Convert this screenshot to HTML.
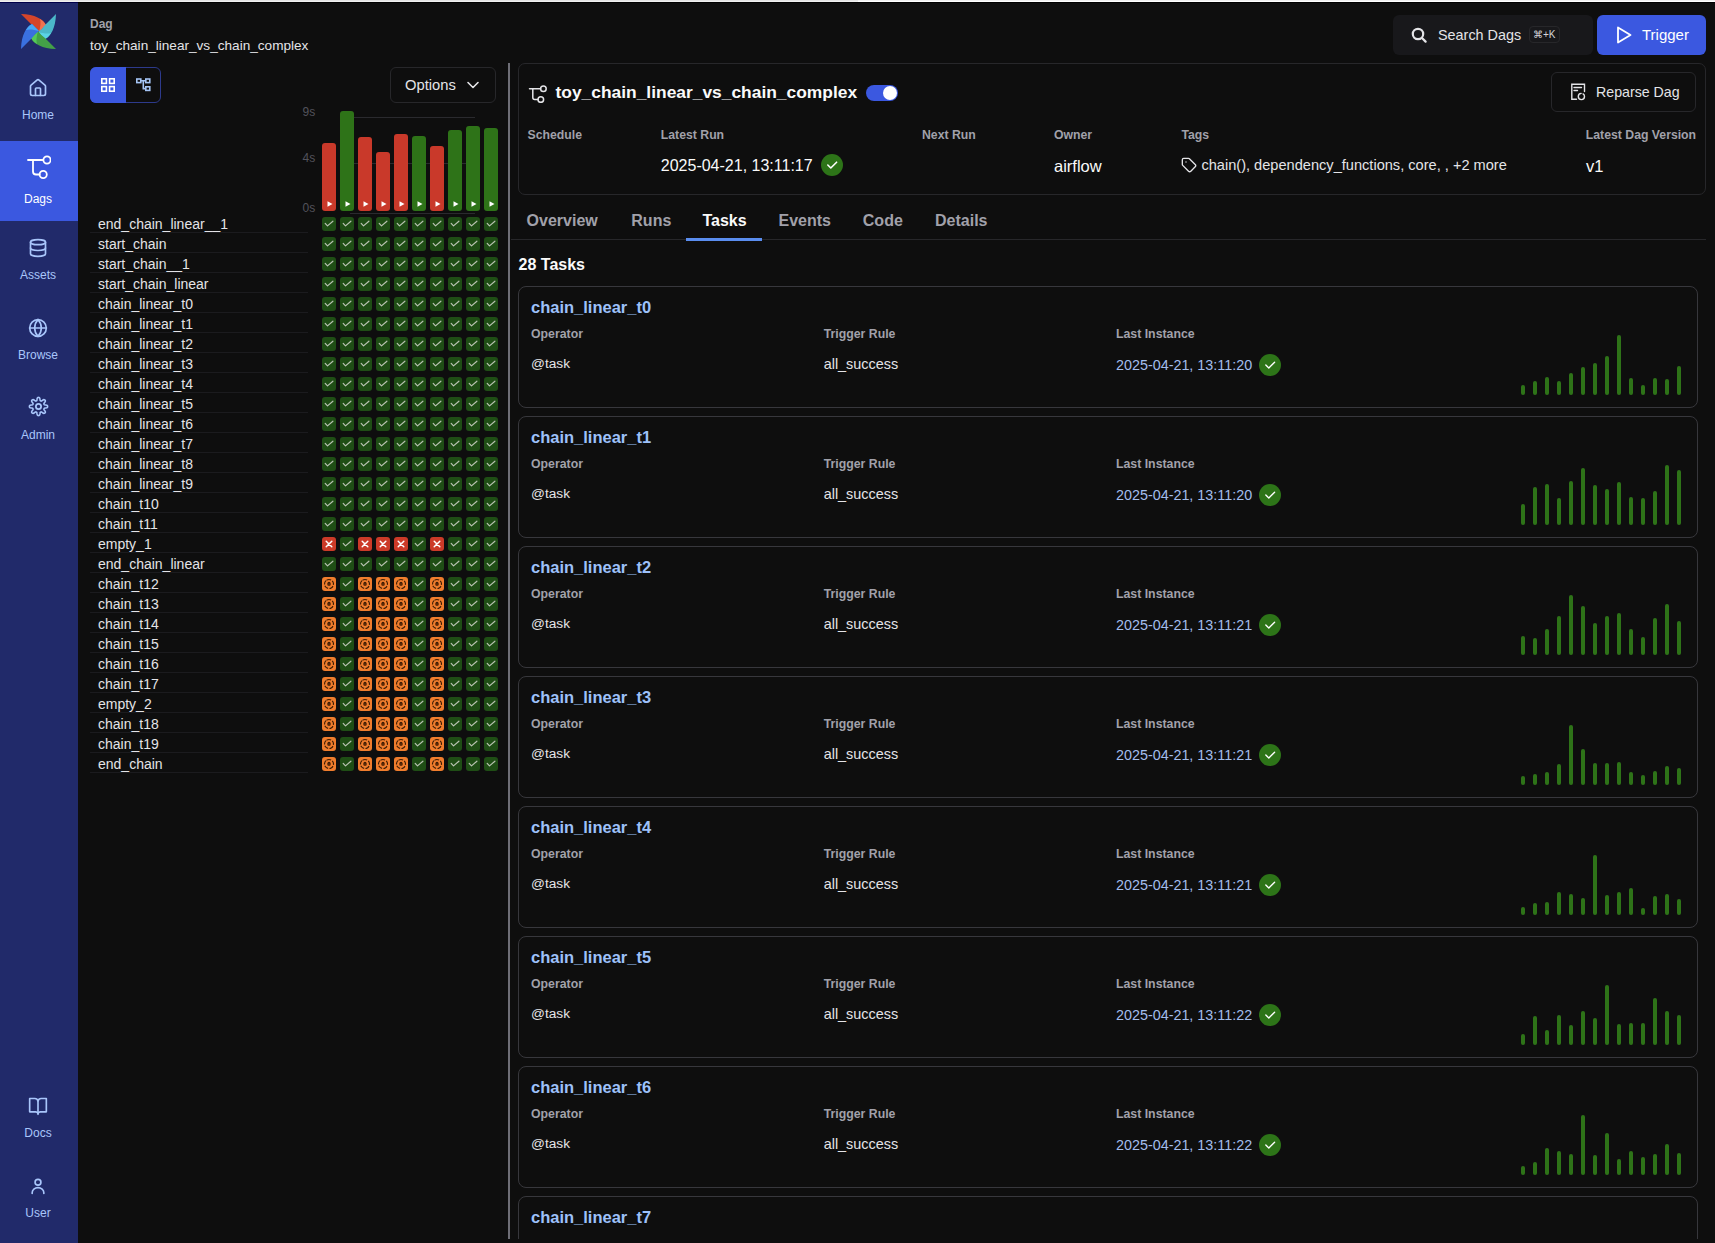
<!DOCTYPE html><html><head><meta charset="utf-8"><style>
html,body{margin:0;padding:0;width:1715px;height:1243px;overflow:hidden;background:#0e0e0e;font-family:"Liberation Sans", sans-serif;}
.t{position:absolute;white-space:nowrap;}
</style></head><body>
<div style="position:absolute;left:0px;top:0px;width:858px;height:1px;background:#e3e3e3"></div>
<div style="position:absolute;left:0px;top:1px;width:858px;height:1px;background:#f0f0f0"></div>
<div style="position:absolute;left:858px;top:0px;width:857px;height:1px;background:#f0f0f0"></div>
<div style="position:absolute;left:858px;top:1px;width:857px;height:1px;background:#ffffff"></div>
<div style="position:absolute;left:0px;top:2px;width:1715px;height:1px;background:#000"></div>
<div style="position:absolute;left:0px;top:2px;width:78px;height:1px;background:#00004a"></div>
<div style="position:absolute;left:0px;top:3px;width:78px;height:1240px;background:#212a6a"></div>
<div style="position:absolute;left:0px;top:141px;width:78px;height:80px;background:#3b58e0"></div>
<svg style="position:absolute;left:21px;top:14px;" width="35" height="35" viewBox="0 0 35 35" fill="none"><g transform="rotate(0 17.5 17.5)"><path d="M0,0 L11,11 Q15,13.5 18,18 L25,11 C22,5 14,0.5 0,0 Z" fill="#d5452a"/><path d="M18,18 L25,11 C23.5,8 21,6 19,5 C20,8 19.5,13 18,18 Z" fill="#ef7350"/></g><g transform="rotate(90 17.5 17.5)"><path d="M0,0 L11,11 Q15,13.5 18,18 L25,11 C22,5 14,0.5 0,0 Z" fill="#4bb8c9"/><path d="M18,18 L25,11 C23.5,8 21,6 19,5 C20,8 19.5,13 18,18 Z" fill="#5bd3e6"/></g><g transform="rotate(180 17.5 17.5)"><path d="M0,0 L11,11 Q15,13.5 18,18 L25,11 C22,5 14,0.5 0,0 Z" fill="#43a047"/><path d="M18,18 L25,11 C23.5,8 21,6 19,5 C20,8 19.5,13 18,18 Z" fill="#55c958"/></g><g transform="rotate(270 17.5 17.5)"><path d="M0,0 L11,11 Q15,13.5 18,18 L25,11 C22,5 14,0.5 0,0 Z" fill="#3a70e0"/><path d="M18,18 L25,11 C23.5,8 21,6 19,5 C20,8 19.5,13 18,18 Z" fill="#46a8f6"/></g></svg>
<svg style="position:absolute;left:28.0px;top:78.0px;" width="20" height="20" viewBox="0 0 24 24" fill="none"><g stroke="#a9c6fb" stroke-width="2" stroke-linecap="round" stroke-linejoin="round"><path d="M15 21v-8a1 1 0 0 0-1-1h-4a1 1 0 0 0-1 1v8"/><path d="M3 10a2 2 0 0 1 .709-1.528l7-5.999a2 2 0 0 1 2.582 0l7 5.999A2 2 0 0 1 21 10v9a2 2 0 0 1-2 2H5a2 2 0 0 1-2-2z"/></g></svg>
<div class="t" style="left:-2.0px;width:80px;text-align:center;top:107.0px;font-size:12px;line-height:16px;color:#a9c6fb;font-weight:400">Home</div>
<svg style="position:absolute;left:27px;top:155px;" width="24" height="24" viewBox="0 0 24 24" fill="none"><g stroke="#fff" stroke-width="1.8" stroke-linecap="round" stroke-linejoin="round" fill="none"><path d="M1 5H16"/><circle cx="20" cy="5" r="3.6"/><path d="M6 5V16.5a3 3 0 0 0 3 3H12.5"/><circle cx="16.2" cy="19.5" r="3.6"/></g></svg>
<div class="t" style="left:-2.0px;width:80px;text-align:center;top:191.0px;font-size:12px;line-height:16px;color:#ffffff;font-weight:400">Dags</div>
<svg style="position:absolute;left:28.0px;top:238.0px;" width="20" height="20" viewBox="0 0 24 24" fill="none"><g stroke="#a9c6fb" stroke-width="2" stroke-linecap="round" stroke-linejoin="round"><ellipse cx="12" cy="5" rx="9" ry="3"/><path d="M3 5V19A9 3 0 0 0 21 19V5"/><path d="M3 12A9 3 0 0 0 21 12"/></g></svg>
<div class="t" style="left:-2.0px;width:80px;text-align:center;top:267.0px;font-size:12px;line-height:16px;color:#a9c6fb;font-weight:400">Assets</div>
<svg style="position:absolute;left:28.0px;top:318.0px;" width="20" height="20" viewBox="0 0 24 24" fill="none"><g stroke="#a9c6fb" stroke-width="2" stroke-linecap="round" stroke-linejoin="round"><circle cx="12" cy="12" r="10"/><path d="M12 2a14.5 14.5 0 0 0 0 20 14.5 14.5 0 0 0 0-20"/><path d="M2 12h20"/></g></svg>
<div class="t" style="left:-2.0px;width:80px;text-align:center;top:347.0px;font-size:12px;line-height:16px;color:#a9c6fb;font-weight:400">Browse</div>
<svg style="position:absolute;left:27.5px;top:396.3px;" width="21" height="21" viewBox="0 0 24 24" fill="none"><g stroke="#a9c6fb" stroke-width="2" stroke-linecap="round" stroke-linejoin="round"><path d="M12.00,1.60 L12.41,1.63 L12.81,1.75 L13.18,2.03 L13.49,2.62 L13.68,3.57 L13.80,4.51 L13.94,5.11 L14.14,5.42 L14.36,5.60 L14.60,5.72 L14.86,5.80 L15.14,5.83 L15.50,5.75 L16.03,5.43 L16.78,4.85 L17.58,4.32 L18.21,4.12 L18.68,4.18 L19.04,4.38 L19.35,4.65 L19.62,4.96 L19.82,5.32 L19.88,5.79 L19.68,6.42 L19.15,7.22 L18.57,7.97 L18.25,8.50 L18.17,8.86 L18.20,9.14 L18.28,9.40 L18.40,9.64 L18.58,9.86 L18.89,10.06 L19.49,10.20 L20.43,10.32 L21.38,10.51 L21.97,10.82 L22.25,11.19 L22.37,11.59 L22.40,12.00 L22.37,12.41 L22.25,12.81 L21.97,13.18 L21.38,13.49 L20.43,13.68 L19.49,13.80 L18.89,13.94 L18.58,14.14 L18.40,14.36 L18.28,14.60 L18.20,14.86 L18.17,15.14 L18.25,15.50 L18.57,16.03 L19.15,16.78 L19.68,17.58 L19.88,18.21 L19.82,18.68 L19.62,19.04 L19.35,19.35 L19.04,19.62 L18.68,19.82 L18.21,19.88 L17.58,19.68 L16.78,19.15 L16.03,18.57 L15.50,18.25 L15.14,18.17 L14.86,18.20 L14.60,18.28 L14.36,18.40 L14.14,18.58 L13.94,18.89 L13.80,19.49 L13.68,20.43 L13.49,21.38 L13.18,21.97 L12.81,22.25 L12.41,22.37 L12.00,22.40 L11.59,22.37 L11.19,22.25 L10.82,21.97 L10.51,21.38 L10.32,20.43 L10.20,19.49 L10.06,18.89 L9.86,18.58 L9.64,18.40 L9.40,18.28 L9.14,18.20 L8.86,18.17 L8.50,18.25 L7.97,18.57 L7.22,19.15 L6.42,19.68 L5.79,19.88 L5.32,19.82 L4.96,19.62 L4.65,19.35 L4.38,19.04 L4.18,18.68 L4.12,18.21 L4.32,17.58 L4.85,16.78 L5.43,16.03 L5.75,15.50 L5.83,15.14 L5.80,14.86 L5.72,14.60 L5.60,14.36 L5.42,14.14 L5.11,13.94 L4.51,13.80 L3.57,13.68 L2.62,13.49 L2.03,13.18 L1.75,12.81 L1.63,12.41 L1.60,12.00 L1.63,11.59 L1.75,11.19 L2.03,10.82 L2.62,10.51 L3.57,10.32 L4.51,10.20 L5.11,10.06 L5.42,9.86 L5.60,9.64 L5.72,9.40 L5.80,9.14 L5.83,8.86 L5.75,8.50 L5.43,7.97 L4.85,7.22 L4.32,6.42 L4.12,5.79 L4.18,5.32 L4.38,4.96 L4.65,4.65 L4.96,4.38 L5.32,4.18 L5.79,4.12 L6.42,4.32 L7.22,4.85 L7.97,5.43 L8.50,5.75 L8.86,5.83 L9.14,5.80 L9.40,5.72 L9.64,5.60 L9.86,5.42 L10.06,5.11 L10.20,4.51 L10.32,3.57 L10.51,2.62 L10.82,2.03 L11.19,1.75 L11.59,1.63 L12.00,1.60Z" stroke-width="1.8"/><circle cx="12" cy="12" r="3"/></g></svg>
<div class="t" style="left:-2.0px;width:80px;text-align:center;top:427.0px;font-size:12px;line-height:16px;color:#a9c6fb;font-weight:400">Admin</div>
<svg style="position:absolute;left:28.0px;top:1095.5px;" width="20" height="20" viewBox="0 0 24 24" fill="none"><g stroke="#a9c6fb" stroke-width="2" stroke-linecap="round" stroke-linejoin="round"><path d="M12 6v16"/><path d="M2 3h6a4 4 0 0 1 4 3 4 4 0 0 1 4-3h6v16h-7a3 3 0 0 0-3 2 3 3 0 0 0-3-2H2z"/></g></svg>
<div class="t" style="left:-2.0px;width:80px;text-align:center;top:1124.5px;font-size:12px;line-height:16px;color:#a9c6fb;font-weight:400">Docs</div>
<svg style="position:absolute;left:28.0px;top:1175.7px;" width="20" height="20" viewBox="0 0 24 24" fill="none"><g stroke="#a9c6fb" stroke-width="2" stroke-linecap="round" stroke-linejoin="round"><circle cx="12" cy="7.5" r="3.5"/><path d="M5 21v-1a7 6 0 0 1 14 0v1"/></g></svg>
<div class="t" style="left:-2.0px;width:80px;text-align:center;top:1204.7px;font-size:12px;line-height:16px;color:#a9c6fb;font-weight:400">User</div>
<div class="t" style="left:90px;top:16.0px;font-size:12px;line-height:16px;color:#a1a1aa;font-weight:700;">Dag</div>
<div class="t" style="left:90px;top:36.5px;font-size:13.6px;line-height:18px;color:#e4e4e7;font-weight:400;">toy_chain_linear_vs_chain_complex</div>
<div style="position:absolute;left:1393px;top:15px;width:200px;height:40px;background:#18181b;border-radius:6px"></div>
<svg style="position:absolute;left:1411px;top:27px;" width="16" height="16" viewBox="0 0 16 16" fill="none"><g stroke="#e4e4e7" stroke-width="2.2" stroke-linecap="round"><circle cx="7" cy="7" r="5.2"/><path d="M11 11l3.6 3.6"/></g></svg>
<div class="t" style="left:1438px;top:25.7px;font-size:14.4px;line-height:18px;color:#e4e4e7;font-weight:400;">Search Dags</div>
<div style="position:absolute;left:1529px;top:26px;width:31px;height:17px;border:1px solid #27272a;border-radius:4px;box-sizing:border-box"></div>
<div class="t" style="left:1533px;top:27.5px;font-size:10px;line-height:14px;color:#d4d4d8;font-weight:400;">&#8984;+K</div>
<div style="position:absolute;left:1597px;top:15px;width:109px;height:40px;background:#3b58e0;border-radius:6px"></div>
<svg style="position:absolute;left:1615px;top:26px;" width="18" height="18" viewBox="0 0 18 18" fill="none"><path d="M3 1.5L15.5 9L3 16.5Z" stroke="#fff" stroke-width="1.8" stroke-linejoin="round"/></svg>
<div class="t" style="left:1642px;top:25.6px;font-size:15px;line-height:18px;color:#ffffff;font-weight:400;">Trigger</div>
<div style="position:absolute;left:90px;top:67px;width:71px;height:36px;border:1px solid #2d3a8c;border-radius:6px;box-sizing:border-box"></div>
<div style="position:absolute;left:90px;top:67px;width:36px;height:36px;background:#3b58e0;border-radius:6px 0 0 6px"></div>
<svg style="position:absolute;left:101px;top:78px;" width="14" height="14" viewBox="0 0 14 14" fill="none"><g stroke="#fff" stroke-width="1.6"><rect x="0.8" y="0.8" width="4.6" height="4.6"/><rect x="8.6" y="0.8" width="4.6" height="4.6"/><rect x="0.8" y="8.6" width="4.6" height="4.6"/><rect x="8.6" y="8.6" width="4.6" height="4.6"/></g></svg>
<svg style="position:absolute;left:136px;top:78px;" width="15" height="14" viewBox="0 0 15 14" fill="none"><g stroke="#a4c4f4" stroke-width="1.6"><rect x="0.8" y="1" width="4" height="3.6"/><rect x="9.8" y="1" width="4" height="3.6"/><rect x="9.8" y="8.8" width="4" height="3.6"/><path d="M4.8 2.8H9.8M7.3 2.8V10.6H9.8"/></g></svg>
<div style="position:absolute;left:390px;top:67px;width:106px;height:36px;border:1px solid #27272a;border-radius:6px;box-sizing:border-box"></div>
<div class="t" style="left:405px;top:76.0px;font-size:14.75px;line-height:18px;color:#e4e4e7;font-weight:400;">Options</div>
<svg style="position:absolute;left:466px;top:80px;" width="14" height="10" viewBox="0 0 14 10" fill="none"><path d="M2 2.5L7 7.5L12 2.5" stroke="#e4e4e7" stroke-width="1.6" stroke-linecap="round" stroke-linejoin="round"/></svg>
<div class="t" style="left:302.5px;top:104.0px;font-size:12px;line-height:16px;color:#52525b;font-weight:400;">9s</div>
<div class="t" style="left:302.5px;top:150.0px;font-size:12px;line-height:16px;color:#52525b;font-weight:400;">4s</div>
<div class="t" style="left:302.5px;top:200.0px;font-size:12px;line-height:16px;color:#52525b;font-weight:400;">0s</div>
<div style="position:absolute;left:354px;top:117px;width:121px;height:1px;background:#2a2a2e"></div>
<div style="position:absolute;left:354px;top:163px;width:121px;height:1px;background:#2a2a2e"></div>
<div style="position:absolute;left:350px;top:213px;width:125px;height:1px;background:#2a2a2e"></div>
<div style="position:absolute;left:322px;top:143px;width:14px;height:68px;background:#c9392a;border-radius:3px"></div>
<svg style="position:absolute;left:326.6px;top:201px;" width="6" height="6" viewBox="0 0 6 6" fill="none"><path d="M0.5 0.3L5.5 3L0.5 5.7Z" fill="#fff"/></svg>
<div style="position:absolute;left:340px;top:111px;width:14px;height:100px;background:#2e7318;border-radius:3px"></div>
<svg style="position:absolute;left:344.6px;top:201px;" width="6" height="6" viewBox="0 0 6 6" fill="none"><path d="M0.5 0.3L5.5 3L0.5 5.7Z" fill="#fff"/></svg>
<div style="position:absolute;left:358px;top:137px;width:14px;height:74px;background:#c9392a;border-radius:3px"></div>
<svg style="position:absolute;left:362.6px;top:201px;" width="6" height="6" viewBox="0 0 6 6" fill="none"><path d="M0.5 0.3L5.5 3L0.5 5.7Z" fill="#fff"/></svg>
<div style="position:absolute;left:376px;top:152px;width:14px;height:59px;background:#c9392a;border-radius:3px"></div>
<svg style="position:absolute;left:380.6px;top:201px;" width="6" height="6" viewBox="0 0 6 6" fill="none"><path d="M0.5 0.3L5.5 3L0.5 5.7Z" fill="#fff"/></svg>
<div style="position:absolute;left:394px;top:134px;width:14px;height:77px;background:#c9392a;border-radius:3px"></div>
<svg style="position:absolute;left:398.6px;top:201px;" width="6" height="6" viewBox="0 0 6 6" fill="none"><path d="M0.5 0.3L5.5 3L0.5 5.7Z" fill="#fff"/></svg>
<div style="position:absolute;left:412px;top:136px;width:14px;height:75px;background:#2e7318;border-radius:3px"></div>
<svg style="position:absolute;left:416.6px;top:201px;" width="6" height="6" viewBox="0 0 6 6" fill="none"><path d="M0.5 0.3L5.5 3L0.5 5.7Z" fill="#fff"/></svg>
<div style="position:absolute;left:430px;top:146px;width:14px;height:65px;background:#c9392a;border-radius:3px"></div>
<svg style="position:absolute;left:434.6px;top:201px;" width="6" height="6" viewBox="0 0 6 6" fill="none"><path d="M0.5 0.3L5.5 3L0.5 5.7Z" fill="#fff"/></svg>
<div style="position:absolute;left:448px;top:130px;width:14px;height:81px;background:#2e7318;border-radius:3px"></div>
<svg style="position:absolute;left:452.6px;top:201px;" width="6" height="6" viewBox="0 0 6 6" fill="none"><path d="M0.5 0.3L5.5 3L0.5 5.7Z" fill="#fff"/></svg>
<div style="position:absolute;left:466px;top:126px;width:14px;height:85px;background:#2e7318;border-radius:3px"></div>
<svg style="position:absolute;left:470.6px;top:201px;" width="6" height="6" viewBox="0 0 6 6" fill="none"><path d="M0.5 0.3L5.5 3L0.5 5.7Z" fill="#fff"/></svg>
<div style="position:absolute;left:484px;top:128px;width:14px;height:83px;background:#2e7318;border-radius:3px"></div>
<svg style="position:absolute;left:488.6px;top:201px;" width="6" height="6" viewBox="0 0 6 6" fill="none"><path d="M0.5 0.3L5.5 3L0.5 5.7Z" fill="#fff"/></svg>
<div class="t" style="left:98px;top:215.0px;font-size:14px;line-height:18px;color:#e4e4e7;font-weight:400;">end_chain_linear__1</div>
<div style="position:absolute;left:90px;top:232px;width:218px;height:1px;background:#1b1b1e"></div>
<svg style="position:absolute;left:322px;top:217px" width="14" height="14" viewBox="0 0 14 14"><rect width="14" height="14" rx="3" fill="#1f4e15"/><path d="M3.2 6.4L5.5 8.9L10.9 4.2" stroke="#b9c2b2" stroke-width="1.2" stroke-linecap="round" stroke-linejoin="round" fill="none"/></svg>
<svg style="position:absolute;left:340px;top:217px" width="14" height="14" viewBox="0 0 14 14"><rect width="14" height="14" rx="3" fill="#1f4e15"/><path d="M3.2 6.4L5.5 8.9L10.9 4.2" stroke="#b9c2b2" stroke-width="1.2" stroke-linecap="round" stroke-linejoin="round" fill="none"/></svg>
<svg style="position:absolute;left:358px;top:217px" width="14" height="14" viewBox="0 0 14 14"><rect width="14" height="14" rx="3" fill="#1f4e15"/><path d="M3.2 6.4L5.5 8.9L10.9 4.2" stroke="#b9c2b2" stroke-width="1.2" stroke-linecap="round" stroke-linejoin="round" fill="none"/></svg>
<svg style="position:absolute;left:376px;top:217px" width="14" height="14" viewBox="0 0 14 14"><rect width="14" height="14" rx="3" fill="#1f4e15"/><path d="M3.2 6.4L5.5 8.9L10.9 4.2" stroke="#b9c2b2" stroke-width="1.2" stroke-linecap="round" stroke-linejoin="round" fill="none"/></svg>
<svg style="position:absolute;left:394px;top:217px" width="14" height="14" viewBox="0 0 14 14"><rect width="14" height="14" rx="3" fill="#1f4e15"/><path d="M3.2 6.4L5.5 8.9L10.9 4.2" stroke="#b9c2b2" stroke-width="1.2" stroke-linecap="round" stroke-linejoin="round" fill="none"/></svg>
<svg style="position:absolute;left:412px;top:217px" width="14" height="14" viewBox="0 0 14 14"><rect width="14" height="14" rx="3" fill="#1f4e15"/><path d="M3.2 6.4L5.5 8.9L10.9 4.2" stroke="#b9c2b2" stroke-width="1.2" stroke-linecap="round" stroke-linejoin="round" fill="none"/></svg>
<svg style="position:absolute;left:430px;top:217px" width="14" height="14" viewBox="0 0 14 14"><rect width="14" height="14" rx="3" fill="#1f4e15"/><path d="M3.2 6.4L5.5 8.9L10.9 4.2" stroke="#b9c2b2" stroke-width="1.2" stroke-linecap="round" stroke-linejoin="round" fill="none"/></svg>
<svg style="position:absolute;left:448px;top:217px" width="14" height="14" viewBox="0 0 14 14"><rect width="14" height="14" rx="3" fill="#1f4e15"/><path d="M3.2 6.4L5.5 8.9L10.9 4.2" stroke="#b9c2b2" stroke-width="1.2" stroke-linecap="round" stroke-linejoin="round" fill="none"/></svg>
<svg style="position:absolute;left:466px;top:217px" width="14" height="14" viewBox="0 0 14 14"><rect width="14" height="14" rx="3" fill="#1f4e15"/><path d="M3.2 6.4L5.5 8.9L10.9 4.2" stroke="#b9c2b2" stroke-width="1.2" stroke-linecap="round" stroke-linejoin="round" fill="none"/></svg>
<svg style="position:absolute;left:484px;top:217px" width="14" height="14" viewBox="0 0 14 14"><rect width="14" height="14" rx="3" fill="#1f4e15"/><path d="M3.2 6.4L5.5 8.9L10.9 4.2" stroke="#b9c2b2" stroke-width="1.2" stroke-linecap="round" stroke-linejoin="round" fill="none"/></svg>
<div class="t" style="left:98px;top:235.0px;font-size:14px;line-height:18px;color:#e4e4e7;font-weight:400;">start_chain</div>
<div style="position:absolute;left:90px;top:252px;width:218px;height:1px;background:#1b1b1e"></div>
<svg style="position:absolute;left:322px;top:237px" width="14" height="14" viewBox="0 0 14 14"><rect width="14" height="14" rx="3" fill="#1f4e15"/><path d="M3.2 6.4L5.5 8.9L10.9 4.2" stroke="#b9c2b2" stroke-width="1.2" stroke-linecap="round" stroke-linejoin="round" fill="none"/></svg>
<svg style="position:absolute;left:340px;top:237px" width="14" height="14" viewBox="0 0 14 14"><rect width="14" height="14" rx="3" fill="#1f4e15"/><path d="M3.2 6.4L5.5 8.9L10.9 4.2" stroke="#b9c2b2" stroke-width="1.2" stroke-linecap="round" stroke-linejoin="round" fill="none"/></svg>
<svg style="position:absolute;left:358px;top:237px" width="14" height="14" viewBox="0 0 14 14"><rect width="14" height="14" rx="3" fill="#1f4e15"/><path d="M3.2 6.4L5.5 8.9L10.9 4.2" stroke="#b9c2b2" stroke-width="1.2" stroke-linecap="round" stroke-linejoin="round" fill="none"/></svg>
<svg style="position:absolute;left:376px;top:237px" width="14" height="14" viewBox="0 0 14 14"><rect width="14" height="14" rx="3" fill="#1f4e15"/><path d="M3.2 6.4L5.5 8.9L10.9 4.2" stroke="#b9c2b2" stroke-width="1.2" stroke-linecap="round" stroke-linejoin="round" fill="none"/></svg>
<svg style="position:absolute;left:394px;top:237px" width="14" height="14" viewBox="0 0 14 14"><rect width="14" height="14" rx="3" fill="#1f4e15"/><path d="M3.2 6.4L5.5 8.9L10.9 4.2" stroke="#b9c2b2" stroke-width="1.2" stroke-linecap="round" stroke-linejoin="round" fill="none"/></svg>
<svg style="position:absolute;left:412px;top:237px" width="14" height="14" viewBox="0 0 14 14"><rect width="14" height="14" rx="3" fill="#1f4e15"/><path d="M3.2 6.4L5.5 8.9L10.9 4.2" stroke="#b9c2b2" stroke-width="1.2" stroke-linecap="round" stroke-linejoin="round" fill="none"/></svg>
<svg style="position:absolute;left:430px;top:237px" width="14" height="14" viewBox="0 0 14 14"><rect width="14" height="14" rx="3" fill="#1f4e15"/><path d="M3.2 6.4L5.5 8.9L10.9 4.2" stroke="#b9c2b2" stroke-width="1.2" stroke-linecap="round" stroke-linejoin="round" fill="none"/></svg>
<svg style="position:absolute;left:448px;top:237px" width="14" height="14" viewBox="0 0 14 14"><rect width="14" height="14" rx="3" fill="#1f4e15"/><path d="M3.2 6.4L5.5 8.9L10.9 4.2" stroke="#b9c2b2" stroke-width="1.2" stroke-linecap="round" stroke-linejoin="round" fill="none"/></svg>
<svg style="position:absolute;left:466px;top:237px" width="14" height="14" viewBox="0 0 14 14"><rect width="14" height="14" rx="3" fill="#1f4e15"/><path d="M3.2 6.4L5.5 8.9L10.9 4.2" stroke="#b9c2b2" stroke-width="1.2" stroke-linecap="round" stroke-linejoin="round" fill="none"/></svg>
<svg style="position:absolute;left:484px;top:237px" width="14" height="14" viewBox="0 0 14 14"><rect width="14" height="14" rx="3" fill="#1f4e15"/><path d="M3.2 6.4L5.5 8.9L10.9 4.2" stroke="#b9c2b2" stroke-width="1.2" stroke-linecap="round" stroke-linejoin="round" fill="none"/></svg>
<div class="t" style="left:98px;top:255.0px;font-size:14px;line-height:18px;color:#e4e4e7;font-weight:400;">start_chain__1</div>
<div style="position:absolute;left:90px;top:272px;width:218px;height:1px;background:#1b1b1e"></div>
<svg style="position:absolute;left:322px;top:257px" width="14" height="14" viewBox="0 0 14 14"><rect width="14" height="14" rx="3" fill="#1f4e15"/><path d="M3.2 6.4L5.5 8.9L10.9 4.2" stroke="#b9c2b2" stroke-width="1.2" stroke-linecap="round" stroke-linejoin="round" fill="none"/></svg>
<svg style="position:absolute;left:340px;top:257px" width="14" height="14" viewBox="0 0 14 14"><rect width="14" height="14" rx="3" fill="#1f4e15"/><path d="M3.2 6.4L5.5 8.9L10.9 4.2" stroke="#b9c2b2" stroke-width="1.2" stroke-linecap="round" stroke-linejoin="round" fill="none"/></svg>
<svg style="position:absolute;left:358px;top:257px" width="14" height="14" viewBox="0 0 14 14"><rect width="14" height="14" rx="3" fill="#1f4e15"/><path d="M3.2 6.4L5.5 8.9L10.9 4.2" stroke="#b9c2b2" stroke-width="1.2" stroke-linecap="round" stroke-linejoin="round" fill="none"/></svg>
<svg style="position:absolute;left:376px;top:257px" width="14" height="14" viewBox="0 0 14 14"><rect width="14" height="14" rx="3" fill="#1f4e15"/><path d="M3.2 6.4L5.5 8.9L10.9 4.2" stroke="#b9c2b2" stroke-width="1.2" stroke-linecap="round" stroke-linejoin="round" fill="none"/></svg>
<svg style="position:absolute;left:394px;top:257px" width="14" height="14" viewBox="0 0 14 14"><rect width="14" height="14" rx="3" fill="#1f4e15"/><path d="M3.2 6.4L5.5 8.9L10.9 4.2" stroke="#b9c2b2" stroke-width="1.2" stroke-linecap="round" stroke-linejoin="round" fill="none"/></svg>
<svg style="position:absolute;left:412px;top:257px" width="14" height="14" viewBox="0 0 14 14"><rect width="14" height="14" rx="3" fill="#1f4e15"/><path d="M3.2 6.4L5.5 8.9L10.9 4.2" stroke="#b9c2b2" stroke-width="1.2" stroke-linecap="round" stroke-linejoin="round" fill="none"/></svg>
<svg style="position:absolute;left:430px;top:257px" width="14" height="14" viewBox="0 0 14 14"><rect width="14" height="14" rx="3" fill="#1f4e15"/><path d="M3.2 6.4L5.5 8.9L10.9 4.2" stroke="#b9c2b2" stroke-width="1.2" stroke-linecap="round" stroke-linejoin="round" fill="none"/></svg>
<svg style="position:absolute;left:448px;top:257px" width="14" height="14" viewBox="0 0 14 14"><rect width="14" height="14" rx="3" fill="#1f4e15"/><path d="M3.2 6.4L5.5 8.9L10.9 4.2" stroke="#b9c2b2" stroke-width="1.2" stroke-linecap="round" stroke-linejoin="round" fill="none"/></svg>
<svg style="position:absolute;left:466px;top:257px" width="14" height="14" viewBox="0 0 14 14"><rect width="14" height="14" rx="3" fill="#1f4e15"/><path d="M3.2 6.4L5.5 8.9L10.9 4.2" stroke="#b9c2b2" stroke-width="1.2" stroke-linecap="round" stroke-linejoin="round" fill="none"/></svg>
<svg style="position:absolute;left:484px;top:257px" width="14" height="14" viewBox="0 0 14 14"><rect width="14" height="14" rx="3" fill="#1f4e15"/><path d="M3.2 6.4L5.5 8.9L10.9 4.2" stroke="#b9c2b2" stroke-width="1.2" stroke-linecap="round" stroke-linejoin="round" fill="none"/></svg>
<div class="t" style="left:98px;top:275.0px;font-size:14px;line-height:18px;color:#e4e4e7;font-weight:400;">start_chain_linear</div>
<div style="position:absolute;left:90px;top:292px;width:218px;height:1px;background:#1b1b1e"></div>
<svg style="position:absolute;left:322px;top:277px" width="14" height="14" viewBox="0 0 14 14"><rect width="14" height="14" rx="3" fill="#1f4e15"/><path d="M3.2 6.4L5.5 8.9L10.9 4.2" stroke="#b9c2b2" stroke-width="1.2" stroke-linecap="round" stroke-linejoin="round" fill="none"/></svg>
<svg style="position:absolute;left:340px;top:277px" width="14" height="14" viewBox="0 0 14 14"><rect width="14" height="14" rx="3" fill="#1f4e15"/><path d="M3.2 6.4L5.5 8.9L10.9 4.2" stroke="#b9c2b2" stroke-width="1.2" stroke-linecap="round" stroke-linejoin="round" fill="none"/></svg>
<svg style="position:absolute;left:358px;top:277px" width="14" height="14" viewBox="0 0 14 14"><rect width="14" height="14" rx="3" fill="#1f4e15"/><path d="M3.2 6.4L5.5 8.9L10.9 4.2" stroke="#b9c2b2" stroke-width="1.2" stroke-linecap="round" stroke-linejoin="round" fill="none"/></svg>
<svg style="position:absolute;left:376px;top:277px" width="14" height="14" viewBox="0 0 14 14"><rect width="14" height="14" rx="3" fill="#1f4e15"/><path d="M3.2 6.4L5.5 8.9L10.9 4.2" stroke="#b9c2b2" stroke-width="1.2" stroke-linecap="round" stroke-linejoin="round" fill="none"/></svg>
<svg style="position:absolute;left:394px;top:277px" width="14" height="14" viewBox="0 0 14 14"><rect width="14" height="14" rx="3" fill="#1f4e15"/><path d="M3.2 6.4L5.5 8.9L10.9 4.2" stroke="#b9c2b2" stroke-width="1.2" stroke-linecap="round" stroke-linejoin="round" fill="none"/></svg>
<svg style="position:absolute;left:412px;top:277px" width="14" height="14" viewBox="0 0 14 14"><rect width="14" height="14" rx="3" fill="#1f4e15"/><path d="M3.2 6.4L5.5 8.9L10.9 4.2" stroke="#b9c2b2" stroke-width="1.2" stroke-linecap="round" stroke-linejoin="round" fill="none"/></svg>
<svg style="position:absolute;left:430px;top:277px" width="14" height="14" viewBox="0 0 14 14"><rect width="14" height="14" rx="3" fill="#1f4e15"/><path d="M3.2 6.4L5.5 8.9L10.9 4.2" stroke="#b9c2b2" stroke-width="1.2" stroke-linecap="round" stroke-linejoin="round" fill="none"/></svg>
<svg style="position:absolute;left:448px;top:277px" width="14" height="14" viewBox="0 0 14 14"><rect width="14" height="14" rx="3" fill="#1f4e15"/><path d="M3.2 6.4L5.5 8.9L10.9 4.2" stroke="#b9c2b2" stroke-width="1.2" stroke-linecap="round" stroke-linejoin="round" fill="none"/></svg>
<svg style="position:absolute;left:466px;top:277px" width="14" height="14" viewBox="0 0 14 14"><rect width="14" height="14" rx="3" fill="#1f4e15"/><path d="M3.2 6.4L5.5 8.9L10.9 4.2" stroke="#b9c2b2" stroke-width="1.2" stroke-linecap="round" stroke-linejoin="round" fill="none"/></svg>
<svg style="position:absolute;left:484px;top:277px" width="14" height="14" viewBox="0 0 14 14"><rect width="14" height="14" rx="3" fill="#1f4e15"/><path d="M3.2 6.4L5.5 8.9L10.9 4.2" stroke="#b9c2b2" stroke-width="1.2" stroke-linecap="round" stroke-linejoin="round" fill="none"/></svg>
<div class="t" style="left:98px;top:295.0px;font-size:14px;line-height:18px;color:#e4e4e7;font-weight:400;">chain_linear_t0</div>
<div style="position:absolute;left:90px;top:312px;width:218px;height:1px;background:#1b1b1e"></div>
<svg style="position:absolute;left:322px;top:297px" width="14" height="14" viewBox="0 0 14 14"><rect width="14" height="14" rx="3" fill="#1f4e15"/><path d="M3.2 6.4L5.5 8.9L10.9 4.2" stroke="#b9c2b2" stroke-width="1.2" stroke-linecap="round" stroke-linejoin="round" fill="none"/></svg>
<svg style="position:absolute;left:340px;top:297px" width="14" height="14" viewBox="0 0 14 14"><rect width="14" height="14" rx="3" fill="#1f4e15"/><path d="M3.2 6.4L5.5 8.9L10.9 4.2" stroke="#b9c2b2" stroke-width="1.2" stroke-linecap="round" stroke-linejoin="round" fill="none"/></svg>
<svg style="position:absolute;left:358px;top:297px" width="14" height="14" viewBox="0 0 14 14"><rect width="14" height="14" rx="3" fill="#1f4e15"/><path d="M3.2 6.4L5.5 8.9L10.9 4.2" stroke="#b9c2b2" stroke-width="1.2" stroke-linecap="round" stroke-linejoin="round" fill="none"/></svg>
<svg style="position:absolute;left:376px;top:297px" width="14" height="14" viewBox="0 0 14 14"><rect width="14" height="14" rx="3" fill="#1f4e15"/><path d="M3.2 6.4L5.5 8.9L10.9 4.2" stroke="#b9c2b2" stroke-width="1.2" stroke-linecap="round" stroke-linejoin="round" fill="none"/></svg>
<svg style="position:absolute;left:394px;top:297px" width="14" height="14" viewBox="0 0 14 14"><rect width="14" height="14" rx="3" fill="#1f4e15"/><path d="M3.2 6.4L5.5 8.9L10.9 4.2" stroke="#b9c2b2" stroke-width="1.2" stroke-linecap="round" stroke-linejoin="round" fill="none"/></svg>
<svg style="position:absolute;left:412px;top:297px" width="14" height="14" viewBox="0 0 14 14"><rect width="14" height="14" rx="3" fill="#1f4e15"/><path d="M3.2 6.4L5.5 8.9L10.9 4.2" stroke="#b9c2b2" stroke-width="1.2" stroke-linecap="round" stroke-linejoin="round" fill="none"/></svg>
<svg style="position:absolute;left:430px;top:297px" width="14" height="14" viewBox="0 0 14 14"><rect width="14" height="14" rx="3" fill="#1f4e15"/><path d="M3.2 6.4L5.5 8.9L10.9 4.2" stroke="#b9c2b2" stroke-width="1.2" stroke-linecap="round" stroke-linejoin="round" fill="none"/></svg>
<svg style="position:absolute;left:448px;top:297px" width="14" height="14" viewBox="0 0 14 14"><rect width="14" height="14" rx="3" fill="#1f4e15"/><path d="M3.2 6.4L5.5 8.9L10.9 4.2" stroke="#b9c2b2" stroke-width="1.2" stroke-linecap="round" stroke-linejoin="round" fill="none"/></svg>
<svg style="position:absolute;left:466px;top:297px" width="14" height="14" viewBox="0 0 14 14"><rect width="14" height="14" rx="3" fill="#1f4e15"/><path d="M3.2 6.4L5.5 8.9L10.9 4.2" stroke="#b9c2b2" stroke-width="1.2" stroke-linecap="round" stroke-linejoin="round" fill="none"/></svg>
<svg style="position:absolute;left:484px;top:297px" width="14" height="14" viewBox="0 0 14 14"><rect width="14" height="14" rx="3" fill="#1f4e15"/><path d="M3.2 6.4L5.5 8.9L10.9 4.2" stroke="#b9c2b2" stroke-width="1.2" stroke-linecap="round" stroke-linejoin="round" fill="none"/></svg>
<div class="t" style="left:98px;top:315.0px;font-size:14px;line-height:18px;color:#e4e4e7;font-weight:400;">chain_linear_t1</div>
<div style="position:absolute;left:90px;top:332px;width:218px;height:1px;background:#1b1b1e"></div>
<svg style="position:absolute;left:322px;top:317px" width="14" height="14" viewBox="0 0 14 14"><rect width="14" height="14" rx="3" fill="#1f4e15"/><path d="M3.2 6.4L5.5 8.9L10.9 4.2" stroke="#b9c2b2" stroke-width="1.2" stroke-linecap="round" stroke-linejoin="round" fill="none"/></svg>
<svg style="position:absolute;left:340px;top:317px" width="14" height="14" viewBox="0 0 14 14"><rect width="14" height="14" rx="3" fill="#1f4e15"/><path d="M3.2 6.4L5.5 8.9L10.9 4.2" stroke="#b9c2b2" stroke-width="1.2" stroke-linecap="round" stroke-linejoin="round" fill="none"/></svg>
<svg style="position:absolute;left:358px;top:317px" width="14" height="14" viewBox="0 0 14 14"><rect width="14" height="14" rx="3" fill="#1f4e15"/><path d="M3.2 6.4L5.5 8.9L10.9 4.2" stroke="#b9c2b2" stroke-width="1.2" stroke-linecap="round" stroke-linejoin="round" fill="none"/></svg>
<svg style="position:absolute;left:376px;top:317px" width="14" height="14" viewBox="0 0 14 14"><rect width="14" height="14" rx="3" fill="#1f4e15"/><path d="M3.2 6.4L5.5 8.9L10.9 4.2" stroke="#b9c2b2" stroke-width="1.2" stroke-linecap="round" stroke-linejoin="round" fill="none"/></svg>
<svg style="position:absolute;left:394px;top:317px" width="14" height="14" viewBox="0 0 14 14"><rect width="14" height="14" rx="3" fill="#1f4e15"/><path d="M3.2 6.4L5.5 8.9L10.9 4.2" stroke="#b9c2b2" stroke-width="1.2" stroke-linecap="round" stroke-linejoin="round" fill="none"/></svg>
<svg style="position:absolute;left:412px;top:317px" width="14" height="14" viewBox="0 0 14 14"><rect width="14" height="14" rx="3" fill="#1f4e15"/><path d="M3.2 6.4L5.5 8.9L10.9 4.2" stroke="#b9c2b2" stroke-width="1.2" stroke-linecap="round" stroke-linejoin="round" fill="none"/></svg>
<svg style="position:absolute;left:430px;top:317px" width="14" height="14" viewBox="0 0 14 14"><rect width="14" height="14" rx="3" fill="#1f4e15"/><path d="M3.2 6.4L5.5 8.9L10.9 4.2" stroke="#b9c2b2" stroke-width="1.2" stroke-linecap="round" stroke-linejoin="round" fill="none"/></svg>
<svg style="position:absolute;left:448px;top:317px" width="14" height="14" viewBox="0 0 14 14"><rect width="14" height="14" rx="3" fill="#1f4e15"/><path d="M3.2 6.4L5.5 8.9L10.9 4.2" stroke="#b9c2b2" stroke-width="1.2" stroke-linecap="round" stroke-linejoin="round" fill="none"/></svg>
<svg style="position:absolute;left:466px;top:317px" width="14" height="14" viewBox="0 0 14 14"><rect width="14" height="14" rx="3" fill="#1f4e15"/><path d="M3.2 6.4L5.5 8.9L10.9 4.2" stroke="#b9c2b2" stroke-width="1.2" stroke-linecap="round" stroke-linejoin="round" fill="none"/></svg>
<svg style="position:absolute;left:484px;top:317px" width="14" height="14" viewBox="0 0 14 14"><rect width="14" height="14" rx="3" fill="#1f4e15"/><path d="M3.2 6.4L5.5 8.9L10.9 4.2" stroke="#b9c2b2" stroke-width="1.2" stroke-linecap="round" stroke-linejoin="round" fill="none"/></svg>
<div class="t" style="left:98px;top:335.0px;font-size:14px;line-height:18px;color:#e4e4e7;font-weight:400;">chain_linear_t2</div>
<div style="position:absolute;left:90px;top:352px;width:218px;height:1px;background:#1b1b1e"></div>
<svg style="position:absolute;left:322px;top:337px" width="14" height="14" viewBox="0 0 14 14"><rect width="14" height="14" rx="3" fill="#1f4e15"/><path d="M3.2 6.4L5.5 8.9L10.9 4.2" stroke="#b9c2b2" stroke-width="1.2" stroke-linecap="round" stroke-linejoin="round" fill="none"/></svg>
<svg style="position:absolute;left:340px;top:337px" width="14" height="14" viewBox="0 0 14 14"><rect width="14" height="14" rx="3" fill="#1f4e15"/><path d="M3.2 6.4L5.5 8.9L10.9 4.2" stroke="#b9c2b2" stroke-width="1.2" stroke-linecap="round" stroke-linejoin="round" fill="none"/></svg>
<svg style="position:absolute;left:358px;top:337px" width="14" height="14" viewBox="0 0 14 14"><rect width="14" height="14" rx="3" fill="#1f4e15"/><path d="M3.2 6.4L5.5 8.9L10.9 4.2" stroke="#b9c2b2" stroke-width="1.2" stroke-linecap="round" stroke-linejoin="round" fill="none"/></svg>
<svg style="position:absolute;left:376px;top:337px" width="14" height="14" viewBox="0 0 14 14"><rect width="14" height="14" rx="3" fill="#1f4e15"/><path d="M3.2 6.4L5.5 8.9L10.9 4.2" stroke="#b9c2b2" stroke-width="1.2" stroke-linecap="round" stroke-linejoin="round" fill="none"/></svg>
<svg style="position:absolute;left:394px;top:337px" width="14" height="14" viewBox="0 0 14 14"><rect width="14" height="14" rx="3" fill="#1f4e15"/><path d="M3.2 6.4L5.5 8.9L10.9 4.2" stroke="#b9c2b2" stroke-width="1.2" stroke-linecap="round" stroke-linejoin="round" fill="none"/></svg>
<svg style="position:absolute;left:412px;top:337px" width="14" height="14" viewBox="0 0 14 14"><rect width="14" height="14" rx="3" fill="#1f4e15"/><path d="M3.2 6.4L5.5 8.9L10.9 4.2" stroke="#b9c2b2" stroke-width="1.2" stroke-linecap="round" stroke-linejoin="round" fill="none"/></svg>
<svg style="position:absolute;left:430px;top:337px" width="14" height="14" viewBox="0 0 14 14"><rect width="14" height="14" rx="3" fill="#1f4e15"/><path d="M3.2 6.4L5.5 8.9L10.9 4.2" stroke="#b9c2b2" stroke-width="1.2" stroke-linecap="round" stroke-linejoin="round" fill="none"/></svg>
<svg style="position:absolute;left:448px;top:337px" width="14" height="14" viewBox="0 0 14 14"><rect width="14" height="14" rx="3" fill="#1f4e15"/><path d="M3.2 6.4L5.5 8.9L10.9 4.2" stroke="#b9c2b2" stroke-width="1.2" stroke-linecap="round" stroke-linejoin="round" fill="none"/></svg>
<svg style="position:absolute;left:466px;top:337px" width="14" height="14" viewBox="0 0 14 14"><rect width="14" height="14" rx="3" fill="#1f4e15"/><path d="M3.2 6.4L5.5 8.9L10.9 4.2" stroke="#b9c2b2" stroke-width="1.2" stroke-linecap="round" stroke-linejoin="round" fill="none"/></svg>
<svg style="position:absolute;left:484px;top:337px" width="14" height="14" viewBox="0 0 14 14"><rect width="14" height="14" rx="3" fill="#1f4e15"/><path d="M3.2 6.4L5.5 8.9L10.9 4.2" stroke="#b9c2b2" stroke-width="1.2" stroke-linecap="round" stroke-linejoin="round" fill="none"/></svg>
<div class="t" style="left:98px;top:355.0px;font-size:14px;line-height:18px;color:#e4e4e7;font-weight:400;">chain_linear_t3</div>
<div style="position:absolute;left:90px;top:372px;width:218px;height:1px;background:#1b1b1e"></div>
<svg style="position:absolute;left:322px;top:357px" width="14" height="14" viewBox="0 0 14 14"><rect width="14" height="14" rx="3" fill="#1f4e15"/><path d="M3.2 6.4L5.5 8.9L10.9 4.2" stroke="#b9c2b2" stroke-width="1.2" stroke-linecap="round" stroke-linejoin="round" fill="none"/></svg>
<svg style="position:absolute;left:340px;top:357px" width="14" height="14" viewBox="0 0 14 14"><rect width="14" height="14" rx="3" fill="#1f4e15"/><path d="M3.2 6.4L5.5 8.9L10.9 4.2" stroke="#b9c2b2" stroke-width="1.2" stroke-linecap="round" stroke-linejoin="round" fill="none"/></svg>
<svg style="position:absolute;left:358px;top:357px" width="14" height="14" viewBox="0 0 14 14"><rect width="14" height="14" rx="3" fill="#1f4e15"/><path d="M3.2 6.4L5.5 8.9L10.9 4.2" stroke="#b9c2b2" stroke-width="1.2" stroke-linecap="round" stroke-linejoin="round" fill="none"/></svg>
<svg style="position:absolute;left:376px;top:357px" width="14" height="14" viewBox="0 0 14 14"><rect width="14" height="14" rx="3" fill="#1f4e15"/><path d="M3.2 6.4L5.5 8.9L10.9 4.2" stroke="#b9c2b2" stroke-width="1.2" stroke-linecap="round" stroke-linejoin="round" fill="none"/></svg>
<svg style="position:absolute;left:394px;top:357px" width="14" height="14" viewBox="0 0 14 14"><rect width="14" height="14" rx="3" fill="#1f4e15"/><path d="M3.2 6.4L5.5 8.9L10.9 4.2" stroke="#b9c2b2" stroke-width="1.2" stroke-linecap="round" stroke-linejoin="round" fill="none"/></svg>
<svg style="position:absolute;left:412px;top:357px" width="14" height="14" viewBox="0 0 14 14"><rect width="14" height="14" rx="3" fill="#1f4e15"/><path d="M3.2 6.4L5.5 8.9L10.9 4.2" stroke="#b9c2b2" stroke-width="1.2" stroke-linecap="round" stroke-linejoin="round" fill="none"/></svg>
<svg style="position:absolute;left:430px;top:357px" width="14" height="14" viewBox="0 0 14 14"><rect width="14" height="14" rx="3" fill="#1f4e15"/><path d="M3.2 6.4L5.5 8.9L10.9 4.2" stroke="#b9c2b2" stroke-width="1.2" stroke-linecap="round" stroke-linejoin="round" fill="none"/></svg>
<svg style="position:absolute;left:448px;top:357px" width="14" height="14" viewBox="0 0 14 14"><rect width="14" height="14" rx="3" fill="#1f4e15"/><path d="M3.2 6.4L5.5 8.9L10.9 4.2" stroke="#b9c2b2" stroke-width="1.2" stroke-linecap="round" stroke-linejoin="round" fill="none"/></svg>
<svg style="position:absolute;left:466px;top:357px" width="14" height="14" viewBox="0 0 14 14"><rect width="14" height="14" rx="3" fill="#1f4e15"/><path d="M3.2 6.4L5.5 8.9L10.9 4.2" stroke="#b9c2b2" stroke-width="1.2" stroke-linecap="round" stroke-linejoin="round" fill="none"/></svg>
<svg style="position:absolute;left:484px;top:357px" width="14" height="14" viewBox="0 0 14 14"><rect width="14" height="14" rx="3" fill="#1f4e15"/><path d="M3.2 6.4L5.5 8.9L10.9 4.2" stroke="#b9c2b2" stroke-width="1.2" stroke-linecap="round" stroke-linejoin="round" fill="none"/></svg>
<div class="t" style="left:98px;top:375.0px;font-size:14px;line-height:18px;color:#e4e4e7;font-weight:400;">chain_linear_t4</div>
<div style="position:absolute;left:90px;top:392px;width:218px;height:1px;background:#1b1b1e"></div>
<svg style="position:absolute;left:322px;top:377px" width="14" height="14" viewBox="0 0 14 14"><rect width="14" height="14" rx="3" fill="#1f4e15"/><path d="M3.2 6.4L5.5 8.9L10.9 4.2" stroke="#b9c2b2" stroke-width="1.2" stroke-linecap="round" stroke-linejoin="round" fill="none"/></svg>
<svg style="position:absolute;left:340px;top:377px" width="14" height="14" viewBox="0 0 14 14"><rect width="14" height="14" rx="3" fill="#1f4e15"/><path d="M3.2 6.4L5.5 8.9L10.9 4.2" stroke="#b9c2b2" stroke-width="1.2" stroke-linecap="round" stroke-linejoin="round" fill="none"/></svg>
<svg style="position:absolute;left:358px;top:377px" width="14" height="14" viewBox="0 0 14 14"><rect width="14" height="14" rx="3" fill="#1f4e15"/><path d="M3.2 6.4L5.5 8.9L10.9 4.2" stroke="#b9c2b2" stroke-width="1.2" stroke-linecap="round" stroke-linejoin="round" fill="none"/></svg>
<svg style="position:absolute;left:376px;top:377px" width="14" height="14" viewBox="0 0 14 14"><rect width="14" height="14" rx="3" fill="#1f4e15"/><path d="M3.2 6.4L5.5 8.9L10.9 4.2" stroke="#b9c2b2" stroke-width="1.2" stroke-linecap="round" stroke-linejoin="round" fill="none"/></svg>
<svg style="position:absolute;left:394px;top:377px" width="14" height="14" viewBox="0 0 14 14"><rect width="14" height="14" rx="3" fill="#1f4e15"/><path d="M3.2 6.4L5.5 8.9L10.9 4.2" stroke="#b9c2b2" stroke-width="1.2" stroke-linecap="round" stroke-linejoin="round" fill="none"/></svg>
<svg style="position:absolute;left:412px;top:377px" width="14" height="14" viewBox="0 0 14 14"><rect width="14" height="14" rx="3" fill="#1f4e15"/><path d="M3.2 6.4L5.5 8.9L10.9 4.2" stroke="#b9c2b2" stroke-width="1.2" stroke-linecap="round" stroke-linejoin="round" fill="none"/></svg>
<svg style="position:absolute;left:430px;top:377px" width="14" height="14" viewBox="0 0 14 14"><rect width="14" height="14" rx="3" fill="#1f4e15"/><path d="M3.2 6.4L5.5 8.9L10.9 4.2" stroke="#b9c2b2" stroke-width="1.2" stroke-linecap="round" stroke-linejoin="round" fill="none"/></svg>
<svg style="position:absolute;left:448px;top:377px" width="14" height="14" viewBox="0 0 14 14"><rect width="14" height="14" rx="3" fill="#1f4e15"/><path d="M3.2 6.4L5.5 8.9L10.9 4.2" stroke="#b9c2b2" stroke-width="1.2" stroke-linecap="round" stroke-linejoin="round" fill="none"/></svg>
<svg style="position:absolute;left:466px;top:377px" width="14" height="14" viewBox="0 0 14 14"><rect width="14" height="14" rx="3" fill="#1f4e15"/><path d="M3.2 6.4L5.5 8.9L10.9 4.2" stroke="#b9c2b2" stroke-width="1.2" stroke-linecap="round" stroke-linejoin="round" fill="none"/></svg>
<svg style="position:absolute;left:484px;top:377px" width="14" height="14" viewBox="0 0 14 14"><rect width="14" height="14" rx="3" fill="#1f4e15"/><path d="M3.2 6.4L5.5 8.9L10.9 4.2" stroke="#b9c2b2" stroke-width="1.2" stroke-linecap="round" stroke-linejoin="round" fill="none"/></svg>
<div class="t" style="left:98px;top:395.0px;font-size:14px;line-height:18px;color:#e4e4e7;font-weight:400;">chain_linear_t5</div>
<div style="position:absolute;left:90px;top:412px;width:218px;height:1px;background:#1b1b1e"></div>
<svg style="position:absolute;left:322px;top:397px" width="14" height="14" viewBox="0 0 14 14"><rect width="14" height="14" rx="3" fill="#1f4e15"/><path d="M3.2 6.4L5.5 8.9L10.9 4.2" stroke="#b9c2b2" stroke-width="1.2" stroke-linecap="round" stroke-linejoin="round" fill="none"/></svg>
<svg style="position:absolute;left:340px;top:397px" width="14" height="14" viewBox="0 0 14 14"><rect width="14" height="14" rx="3" fill="#1f4e15"/><path d="M3.2 6.4L5.5 8.9L10.9 4.2" stroke="#b9c2b2" stroke-width="1.2" stroke-linecap="round" stroke-linejoin="round" fill="none"/></svg>
<svg style="position:absolute;left:358px;top:397px" width="14" height="14" viewBox="0 0 14 14"><rect width="14" height="14" rx="3" fill="#1f4e15"/><path d="M3.2 6.4L5.5 8.9L10.9 4.2" stroke="#b9c2b2" stroke-width="1.2" stroke-linecap="round" stroke-linejoin="round" fill="none"/></svg>
<svg style="position:absolute;left:376px;top:397px" width="14" height="14" viewBox="0 0 14 14"><rect width="14" height="14" rx="3" fill="#1f4e15"/><path d="M3.2 6.4L5.5 8.9L10.9 4.2" stroke="#b9c2b2" stroke-width="1.2" stroke-linecap="round" stroke-linejoin="round" fill="none"/></svg>
<svg style="position:absolute;left:394px;top:397px" width="14" height="14" viewBox="0 0 14 14"><rect width="14" height="14" rx="3" fill="#1f4e15"/><path d="M3.2 6.4L5.5 8.9L10.9 4.2" stroke="#b9c2b2" stroke-width="1.2" stroke-linecap="round" stroke-linejoin="round" fill="none"/></svg>
<svg style="position:absolute;left:412px;top:397px" width="14" height="14" viewBox="0 0 14 14"><rect width="14" height="14" rx="3" fill="#1f4e15"/><path d="M3.2 6.4L5.5 8.9L10.9 4.2" stroke="#b9c2b2" stroke-width="1.2" stroke-linecap="round" stroke-linejoin="round" fill="none"/></svg>
<svg style="position:absolute;left:430px;top:397px" width="14" height="14" viewBox="0 0 14 14"><rect width="14" height="14" rx="3" fill="#1f4e15"/><path d="M3.2 6.4L5.5 8.9L10.9 4.2" stroke="#b9c2b2" stroke-width="1.2" stroke-linecap="round" stroke-linejoin="round" fill="none"/></svg>
<svg style="position:absolute;left:448px;top:397px" width="14" height="14" viewBox="0 0 14 14"><rect width="14" height="14" rx="3" fill="#1f4e15"/><path d="M3.2 6.4L5.5 8.9L10.9 4.2" stroke="#b9c2b2" stroke-width="1.2" stroke-linecap="round" stroke-linejoin="round" fill="none"/></svg>
<svg style="position:absolute;left:466px;top:397px" width="14" height="14" viewBox="0 0 14 14"><rect width="14" height="14" rx="3" fill="#1f4e15"/><path d="M3.2 6.4L5.5 8.9L10.9 4.2" stroke="#b9c2b2" stroke-width="1.2" stroke-linecap="round" stroke-linejoin="round" fill="none"/></svg>
<svg style="position:absolute;left:484px;top:397px" width="14" height="14" viewBox="0 0 14 14"><rect width="14" height="14" rx="3" fill="#1f4e15"/><path d="M3.2 6.4L5.5 8.9L10.9 4.2" stroke="#b9c2b2" stroke-width="1.2" stroke-linecap="round" stroke-linejoin="round" fill="none"/></svg>
<div class="t" style="left:98px;top:415.0px;font-size:14px;line-height:18px;color:#e4e4e7;font-weight:400;">chain_linear_t6</div>
<div style="position:absolute;left:90px;top:432px;width:218px;height:1px;background:#1b1b1e"></div>
<svg style="position:absolute;left:322px;top:417px" width="14" height="14" viewBox="0 0 14 14"><rect width="14" height="14" rx="3" fill="#1f4e15"/><path d="M3.2 6.4L5.5 8.9L10.9 4.2" stroke="#b9c2b2" stroke-width="1.2" stroke-linecap="round" stroke-linejoin="round" fill="none"/></svg>
<svg style="position:absolute;left:340px;top:417px" width="14" height="14" viewBox="0 0 14 14"><rect width="14" height="14" rx="3" fill="#1f4e15"/><path d="M3.2 6.4L5.5 8.9L10.9 4.2" stroke="#b9c2b2" stroke-width="1.2" stroke-linecap="round" stroke-linejoin="round" fill="none"/></svg>
<svg style="position:absolute;left:358px;top:417px" width="14" height="14" viewBox="0 0 14 14"><rect width="14" height="14" rx="3" fill="#1f4e15"/><path d="M3.2 6.4L5.5 8.9L10.9 4.2" stroke="#b9c2b2" stroke-width="1.2" stroke-linecap="round" stroke-linejoin="round" fill="none"/></svg>
<svg style="position:absolute;left:376px;top:417px" width="14" height="14" viewBox="0 0 14 14"><rect width="14" height="14" rx="3" fill="#1f4e15"/><path d="M3.2 6.4L5.5 8.9L10.9 4.2" stroke="#b9c2b2" stroke-width="1.2" stroke-linecap="round" stroke-linejoin="round" fill="none"/></svg>
<svg style="position:absolute;left:394px;top:417px" width="14" height="14" viewBox="0 0 14 14"><rect width="14" height="14" rx="3" fill="#1f4e15"/><path d="M3.2 6.4L5.5 8.9L10.9 4.2" stroke="#b9c2b2" stroke-width="1.2" stroke-linecap="round" stroke-linejoin="round" fill="none"/></svg>
<svg style="position:absolute;left:412px;top:417px" width="14" height="14" viewBox="0 0 14 14"><rect width="14" height="14" rx="3" fill="#1f4e15"/><path d="M3.2 6.4L5.5 8.9L10.9 4.2" stroke="#b9c2b2" stroke-width="1.2" stroke-linecap="round" stroke-linejoin="round" fill="none"/></svg>
<svg style="position:absolute;left:430px;top:417px" width="14" height="14" viewBox="0 0 14 14"><rect width="14" height="14" rx="3" fill="#1f4e15"/><path d="M3.2 6.4L5.5 8.9L10.9 4.2" stroke="#b9c2b2" stroke-width="1.2" stroke-linecap="round" stroke-linejoin="round" fill="none"/></svg>
<svg style="position:absolute;left:448px;top:417px" width="14" height="14" viewBox="0 0 14 14"><rect width="14" height="14" rx="3" fill="#1f4e15"/><path d="M3.2 6.4L5.5 8.9L10.9 4.2" stroke="#b9c2b2" stroke-width="1.2" stroke-linecap="round" stroke-linejoin="round" fill="none"/></svg>
<svg style="position:absolute;left:466px;top:417px" width="14" height="14" viewBox="0 0 14 14"><rect width="14" height="14" rx="3" fill="#1f4e15"/><path d="M3.2 6.4L5.5 8.9L10.9 4.2" stroke="#b9c2b2" stroke-width="1.2" stroke-linecap="round" stroke-linejoin="round" fill="none"/></svg>
<svg style="position:absolute;left:484px;top:417px" width="14" height="14" viewBox="0 0 14 14"><rect width="14" height="14" rx="3" fill="#1f4e15"/><path d="M3.2 6.4L5.5 8.9L10.9 4.2" stroke="#b9c2b2" stroke-width="1.2" stroke-linecap="round" stroke-linejoin="round" fill="none"/></svg>
<div class="t" style="left:98px;top:435.0px;font-size:14px;line-height:18px;color:#e4e4e7;font-weight:400;">chain_linear_t7</div>
<div style="position:absolute;left:90px;top:452px;width:218px;height:1px;background:#1b1b1e"></div>
<svg style="position:absolute;left:322px;top:437px" width="14" height="14" viewBox="0 0 14 14"><rect width="14" height="14" rx="3" fill="#1f4e15"/><path d="M3.2 6.4L5.5 8.9L10.9 4.2" stroke="#b9c2b2" stroke-width="1.2" stroke-linecap="round" stroke-linejoin="round" fill="none"/></svg>
<svg style="position:absolute;left:340px;top:437px" width="14" height="14" viewBox="0 0 14 14"><rect width="14" height="14" rx="3" fill="#1f4e15"/><path d="M3.2 6.4L5.5 8.9L10.9 4.2" stroke="#b9c2b2" stroke-width="1.2" stroke-linecap="round" stroke-linejoin="round" fill="none"/></svg>
<svg style="position:absolute;left:358px;top:437px" width="14" height="14" viewBox="0 0 14 14"><rect width="14" height="14" rx="3" fill="#1f4e15"/><path d="M3.2 6.4L5.5 8.9L10.9 4.2" stroke="#b9c2b2" stroke-width="1.2" stroke-linecap="round" stroke-linejoin="round" fill="none"/></svg>
<svg style="position:absolute;left:376px;top:437px" width="14" height="14" viewBox="0 0 14 14"><rect width="14" height="14" rx="3" fill="#1f4e15"/><path d="M3.2 6.4L5.5 8.9L10.9 4.2" stroke="#b9c2b2" stroke-width="1.2" stroke-linecap="round" stroke-linejoin="round" fill="none"/></svg>
<svg style="position:absolute;left:394px;top:437px" width="14" height="14" viewBox="0 0 14 14"><rect width="14" height="14" rx="3" fill="#1f4e15"/><path d="M3.2 6.4L5.5 8.9L10.9 4.2" stroke="#b9c2b2" stroke-width="1.2" stroke-linecap="round" stroke-linejoin="round" fill="none"/></svg>
<svg style="position:absolute;left:412px;top:437px" width="14" height="14" viewBox="0 0 14 14"><rect width="14" height="14" rx="3" fill="#1f4e15"/><path d="M3.2 6.4L5.5 8.9L10.9 4.2" stroke="#b9c2b2" stroke-width="1.2" stroke-linecap="round" stroke-linejoin="round" fill="none"/></svg>
<svg style="position:absolute;left:430px;top:437px" width="14" height="14" viewBox="0 0 14 14"><rect width="14" height="14" rx="3" fill="#1f4e15"/><path d="M3.2 6.4L5.5 8.9L10.9 4.2" stroke="#b9c2b2" stroke-width="1.2" stroke-linecap="round" stroke-linejoin="round" fill="none"/></svg>
<svg style="position:absolute;left:448px;top:437px" width="14" height="14" viewBox="0 0 14 14"><rect width="14" height="14" rx="3" fill="#1f4e15"/><path d="M3.2 6.4L5.5 8.9L10.9 4.2" stroke="#b9c2b2" stroke-width="1.2" stroke-linecap="round" stroke-linejoin="round" fill="none"/></svg>
<svg style="position:absolute;left:466px;top:437px" width="14" height="14" viewBox="0 0 14 14"><rect width="14" height="14" rx="3" fill="#1f4e15"/><path d="M3.2 6.4L5.5 8.9L10.9 4.2" stroke="#b9c2b2" stroke-width="1.2" stroke-linecap="round" stroke-linejoin="round" fill="none"/></svg>
<svg style="position:absolute;left:484px;top:437px" width="14" height="14" viewBox="0 0 14 14"><rect width="14" height="14" rx="3" fill="#1f4e15"/><path d="M3.2 6.4L5.5 8.9L10.9 4.2" stroke="#b9c2b2" stroke-width="1.2" stroke-linecap="round" stroke-linejoin="round" fill="none"/></svg>
<div class="t" style="left:98px;top:455.0px;font-size:14px;line-height:18px;color:#e4e4e7;font-weight:400;">chain_linear_t8</div>
<div style="position:absolute;left:90px;top:472px;width:218px;height:1px;background:#1b1b1e"></div>
<svg style="position:absolute;left:322px;top:457px" width="14" height="14" viewBox="0 0 14 14"><rect width="14" height="14" rx="3" fill="#1f4e15"/><path d="M3.2 6.4L5.5 8.9L10.9 4.2" stroke="#b9c2b2" stroke-width="1.2" stroke-linecap="round" stroke-linejoin="round" fill="none"/></svg>
<svg style="position:absolute;left:340px;top:457px" width="14" height="14" viewBox="0 0 14 14"><rect width="14" height="14" rx="3" fill="#1f4e15"/><path d="M3.2 6.4L5.5 8.9L10.9 4.2" stroke="#b9c2b2" stroke-width="1.2" stroke-linecap="round" stroke-linejoin="round" fill="none"/></svg>
<svg style="position:absolute;left:358px;top:457px" width="14" height="14" viewBox="0 0 14 14"><rect width="14" height="14" rx="3" fill="#1f4e15"/><path d="M3.2 6.4L5.5 8.9L10.9 4.2" stroke="#b9c2b2" stroke-width="1.2" stroke-linecap="round" stroke-linejoin="round" fill="none"/></svg>
<svg style="position:absolute;left:376px;top:457px" width="14" height="14" viewBox="0 0 14 14"><rect width="14" height="14" rx="3" fill="#1f4e15"/><path d="M3.2 6.4L5.5 8.9L10.9 4.2" stroke="#b9c2b2" stroke-width="1.2" stroke-linecap="round" stroke-linejoin="round" fill="none"/></svg>
<svg style="position:absolute;left:394px;top:457px" width="14" height="14" viewBox="0 0 14 14"><rect width="14" height="14" rx="3" fill="#1f4e15"/><path d="M3.2 6.4L5.5 8.9L10.9 4.2" stroke="#b9c2b2" stroke-width="1.2" stroke-linecap="round" stroke-linejoin="round" fill="none"/></svg>
<svg style="position:absolute;left:412px;top:457px" width="14" height="14" viewBox="0 0 14 14"><rect width="14" height="14" rx="3" fill="#1f4e15"/><path d="M3.2 6.4L5.5 8.9L10.9 4.2" stroke="#b9c2b2" stroke-width="1.2" stroke-linecap="round" stroke-linejoin="round" fill="none"/></svg>
<svg style="position:absolute;left:430px;top:457px" width="14" height="14" viewBox="0 0 14 14"><rect width="14" height="14" rx="3" fill="#1f4e15"/><path d="M3.2 6.4L5.5 8.9L10.9 4.2" stroke="#b9c2b2" stroke-width="1.2" stroke-linecap="round" stroke-linejoin="round" fill="none"/></svg>
<svg style="position:absolute;left:448px;top:457px" width="14" height="14" viewBox="0 0 14 14"><rect width="14" height="14" rx="3" fill="#1f4e15"/><path d="M3.2 6.4L5.5 8.9L10.9 4.2" stroke="#b9c2b2" stroke-width="1.2" stroke-linecap="round" stroke-linejoin="round" fill="none"/></svg>
<svg style="position:absolute;left:466px;top:457px" width="14" height="14" viewBox="0 0 14 14"><rect width="14" height="14" rx="3" fill="#1f4e15"/><path d="M3.2 6.4L5.5 8.9L10.9 4.2" stroke="#b9c2b2" stroke-width="1.2" stroke-linecap="round" stroke-linejoin="round" fill="none"/></svg>
<svg style="position:absolute;left:484px;top:457px" width="14" height="14" viewBox="0 0 14 14"><rect width="14" height="14" rx="3" fill="#1f4e15"/><path d="M3.2 6.4L5.5 8.9L10.9 4.2" stroke="#b9c2b2" stroke-width="1.2" stroke-linecap="round" stroke-linejoin="round" fill="none"/></svg>
<div class="t" style="left:98px;top:475.0px;font-size:14px;line-height:18px;color:#e4e4e7;font-weight:400;">chain_linear_t9</div>
<div style="position:absolute;left:90px;top:492px;width:218px;height:1px;background:#1b1b1e"></div>
<svg style="position:absolute;left:322px;top:477px" width="14" height="14" viewBox="0 0 14 14"><rect width="14" height="14" rx="3" fill="#1f4e15"/><path d="M3.2 6.4L5.5 8.9L10.9 4.2" stroke="#b9c2b2" stroke-width="1.2" stroke-linecap="round" stroke-linejoin="round" fill="none"/></svg>
<svg style="position:absolute;left:340px;top:477px" width="14" height="14" viewBox="0 0 14 14"><rect width="14" height="14" rx="3" fill="#1f4e15"/><path d="M3.2 6.4L5.5 8.9L10.9 4.2" stroke="#b9c2b2" stroke-width="1.2" stroke-linecap="round" stroke-linejoin="round" fill="none"/></svg>
<svg style="position:absolute;left:358px;top:477px" width="14" height="14" viewBox="0 0 14 14"><rect width="14" height="14" rx="3" fill="#1f4e15"/><path d="M3.2 6.4L5.5 8.9L10.9 4.2" stroke="#b9c2b2" stroke-width="1.2" stroke-linecap="round" stroke-linejoin="round" fill="none"/></svg>
<svg style="position:absolute;left:376px;top:477px" width="14" height="14" viewBox="0 0 14 14"><rect width="14" height="14" rx="3" fill="#1f4e15"/><path d="M3.2 6.4L5.5 8.9L10.9 4.2" stroke="#b9c2b2" stroke-width="1.2" stroke-linecap="round" stroke-linejoin="round" fill="none"/></svg>
<svg style="position:absolute;left:394px;top:477px" width="14" height="14" viewBox="0 0 14 14"><rect width="14" height="14" rx="3" fill="#1f4e15"/><path d="M3.2 6.4L5.5 8.9L10.9 4.2" stroke="#b9c2b2" stroke-width="1.2" stroke-linecap="round" stroke-linejoin="round" fill="none"/></svg>
<svg style="position:absolute;left:412px;top:477px" width="14" height="14" viewBox="0 0 14 14"><rect width="14" height="14" rx="3" fill="#1f4e15"/><path d="M3.2 6.4L5.5 8.9L10.9 4.2" stroke="#b9c2b2" stroke-width="1.2" stroke-linecap="round" stroke-linejoin="round" fill="none"/></svg>
<svg style="position:absolute;left:430px;top:477px" width="14" height="14" viewBox="0 0 14 14"><rect width="14" height="14" rx="3" fill="#1f4e15"/><path d="M3.2 6.4L5.5 8.9L10.9 4.2" stroke="#b9c2b2" stroke-width="1.2" stroke-linecap="round" stroke-linejoin="round" fill="none"/></svg>
<svg style="position:absolute;left:448px;top:477px" width="14" height="14" viewBox="0 0 14 14"><rect width="14" height="14" rx="3" fill="#1f4e15"/><path d="M3.2 6.4L5.5 8.9L10.9 4.2" stroke="#b9c2b2" stroke-width="1.2" stroke-linecap="round" stroke-linejoin="round" fill="none"/></svg>
<svg style="position:absolute;left:466px;top:477px" width="14" height="14" viewBox="0 0 14 14"><rect width="14" height="14" rx="3" fill="#1f4e15"/><path d="M3.2 6.4L5.5 8.9L10.9 4.2" stroke="#b9c2b2" stroke-width="1.2" stroke-linecap="round" stroke-linejoin="round" fill="none"/></svg>
<svg style="position:absolute;left:484px;top:477px" width="14" height="14" viewBox="0 0 14 14"><rect width="14" height="14" rx="3" fill="#1f4e15"/><path d="M3.2 6.4L5.5 8.9L10.9 4.2" stroke="#b9c2b2" stroke-width="1.2" stroke-linecap="round" stroke-linejoin="round" fill="none"/></svg>
<div class="t" style="left:98px;top:495.0px;font-size:14px;line-height:18px;color:#e4e4e7;font-weight:400;">chain_t10</div>
<div style="position:absolute;left:90px;top:512px;width:218px;height:1px;background:#1b1b1e"></div>
<svg style="position:absolute;left:322px;top:497px" width="14" height="14" viewBox="0 0 14 14"><rect width="14" height="14" rx="3" fill="#1f4e15"/><path d="M3.2 6.4L5.5 8.9L10.9 4.2" stroke="#b9c2b2" stroke-width="1.2" stroke-linecap="round" stroke-linejoin="round" fill="none"/></svg>
<svg style="position:absolute;left:340px;top:497px" width="14" height="14" viewBox="0 0 14 14"><rect width="14" height="14" rx="3" fill="#1f4e15"/><path d="M3.2 6.4L5.5 8.9L10.9 4.2" stroke="#b9c2b2" stroke-width="1.2" stroke-linecap="round" stroke-linejoin="round" fill="none"/></svg>
<svg style="position:absolute;left:358px;top:497px" width="14" height="14" viewBox="0 0 14 14"><rect width="14" height="14" rx="3" fill="#1f4e15"/><path d="M3.2 6.4L5.5 8.9L10.9 4.2" stroke="#b9c2b2" stroke-width="1.2" stroke-linecap="round" stroke-linejoin="round" fill="none"/></svg>
<svg style="position:absolute;left:376px;top:497px" width="14" height="14" viewBox="0 0 14 14"><rect width="14" height="14" rx="3" fill="#1f4e15"/><path d="M3.2 6.4L5.5 8.9L10.9 4.2" stroke="#b9c2b2" stroke-width="1.2" stroke-linecap="round" stroke-linejoin="round" fill="none"/></svg>
<svg style="position:absolute;left:394px;top:497px" width="14" height="14" viewBox="0 0 14 14"><rect width="14" height="14" rx="3" fill="#1f4e15"/><path d="M3.2 6.4L5.5 8.9L10.9 4.2" stroke="#b9c2b2" stroke-width="1.2" stroke-linecap="round" stroke-linejoin="round" fill="none"/></svg>
<svg style="position:absolute;left:412px;top:497px" width="14" height="14" viewBox="0 0 14 14"><rect width="14" height="14" rx="3" fill="#1f4e15"/><path d="M3.2 6.4L5.5 8.9L10.9 4.2" stroke="#b9c2b2" stroke-width="1.2" stroke-linecap="round" stroke-linejoin="round" fill="none"/></svg>
<svg style="position:absolute;left:430px;top:497px" width="14" height="14" viewBox="0 0 14 14"><rect width="14" height="14" rx="3" fill="#1f4e15"/><path d="M3.2 6.4L5.5 8.9L10.9 4.2" stroke="#b9c2b2" stroke-width="1.2" stroke-linecap="round" stroke-linejoin="round" fill="none"/></svg>
<svg style="position:absolute;left:448px;top:497px" width="14" height="14" viewBox="0 0 14 14"><rect width="14" height="14" rx="3" fill="#1f4e15"/><path d="M3.2 6.4L5.5 8.9L10.9 4.2" stroke="#b9c2b2" stroke-width="1.2" stroke-linecap="round" stroke-linejoin="round" fill="none"/></svg>
<svg style="position:absolute;left:466px;top:497px" width="14" height="14" viewBox="0 0 14 14"><rect width="14" height="14" rx="3" fill="#1f4e15"/><path d="M3.2 6.4L5.5 8.9L10.9 4.2" stroke="#b9c2b2" stroke-width="1.2" stroke-linecap="round" stroke-linejoin="round" fill="none"/></svg>
<svg style="position:absolute;left:484px;top:497px" width="14" height="14" viewBox="0 0 14 14"><rect width="14" height="14" rx="3" fill="#1f4e15"/><path d="M3.2 6.4L5.5 8.9L10.9 4.2" stroke="#b9c2b2" stroke-width="1.2" stroke-linecap="round" stroke-linejoin="round" fill="none"/></svg>
<div class="t" style="left:98px;top:515.0px;font-size:14px;line-height:18px;color:#e4e4e7;font-weight:400;">chain_t11</div>
<div style="position:absolute;left:90px;top:532px;width:218px;height:1px;background:#1b1b1e"></div>
<svg style="position:absolute;left:322px;top:517px" width="14" height="14" viewBox="0 0 14 14"><rect width="14" height="14" rx="3" fill="#1f4e15"/><path d="M3.2 6.4L5.5 8.9L10.9 4.2" stroke="#b9c2b2" stroke-width="1.2" stroke-linecap="round" stroke-linejoin="round" fill="none"/></svg>
<svg style="position:absolute;left:340px;top:517px" width="14" height="14" viewBox="0 0 14 14"><rect width="14" height="14" rx="3" fill="#1f4e15"/><path d="M3.2 6.4L5.5 8.9L10.9 4.2" stroke="#b9c2b2" stroke-width="1.2" stroke-linecap="round" stroke-linejoin="round" fill="none"/></svg>
<svg style="position:absolute;left:358px;top:517px" width="14" height="14" viewBox="0 0 14 14"><rect width="14" height="14" rx="3" fill="#1f4e15"/><path d="M3.2 6.4L5.5 8.9L10.9 4.2" stroke="#b9c2b2" stroke-width="1.2" stroke-linecap="round" stroke-linejoin="round" fill="none"/></svg>
<svg style="position:absolute;left:376px;top:517px" width="14" height="14" viewBox="0 0 14 14"><rect width="14" height="14" rx="3" fill="#1f4e15"/><path d="M3.2 6.4L5.5 8.9L10.9 4.2" stroke="#b9c2b2" stroke-width="1.2" stroke-linecap="round" stroke-linejoin="round" fill="none"/></svg>
<svg style="position:absolute;left:394px;top:517px" width="14" height="14" viewBox="0 0 14 14"><rect width="14" height="14" rx="3" fill="#1f4e15"/><path d="M3.2 6.4L5.5 8.9L10.9 4.2" stroke="#b9c2b2" stroke-width="1.2" stroke-linecap="round" stroke-linejoin="round" fill="none"/></svg>
<svg style="position:absolute;left:412px;top:517px" width="14" height="14" viewBox="0 0 14 14"><rect width="14" height="14" rx="3" fill="#1f4e15"/><path d="M3.2 6.4L5.5 8.9L10.9 4.2" stroke="#b9c2b2" stroke-width="1.2" stroke-linecap="round" stroke-linejoin="round" fill="none"/></svg>
<svg style="position:absolute;left:430px;top:517px" width="14" height="14" viewBox="0 0 14 14"><rect width="14" height="14" rx="3" fill="#1f4e15"/><path d="M3.2 6.4L5.5 8.9L10.9 4.2" stroke="#b9c2b2" stroke-width="1.2" stroke-linecap="round" stroke-linejoin="round" fill="none"/></svg>
<svg style="position:absolute;left:448px;top:517px" width="14" height="14" viewBox="0 0 14 14"><rect width="14" height="14" rx="3" fill="#1f4e15"/><path d="M3.2 6.4L5.5 8.9L10.9 4.2" stroke="#b9c2b2" stroke-width="1.2" stroke-linecap="round" stroke-linejoin="round" fill="none"/></svg>
<svg style="position:absolute;left:466px;top:517px" width="14" height="14" viewBox="0 0 14 14"><rect width="14" height="14" rx="3" fill="#1f4e15"/><path d="M3.2 6.4L5.5 8.9L10.9 4.2" stroke="#b9c2b2" stroke-width="1.2" stroke-linecap="round" stroke-linejoin="round" fill="none"/></svg>
<svg style="position:absolute;left:484px;top:517px" width="14" height="14" viewBox="0 0 14 14"><rect width="14" height="14" rx="3" fill="#1f4e15"/><path d="M3.2 6.4L5.5 8.9L10.9 4.2" stroke="#b9c2b2" stroke-width="1.2" stroke-linecap="round" stroke-linejoin="round" fill="none"/></svg>
<div class="t" style="left:98px;top:535.0px;font-size:14px;line-height:18px;color:#e4e4e7;font-weight:400;">empty_1</div>
<div style="position:absolute;left:90px;top:552px;width:218px;height:1px;background:#1b1b1e"></div>
<svg style="position:absolute;left:322px;top:537px" width="14" height="14" viewBox="0 0 14 14"><rect width="14" height="14" rx="3" fill="#cc3a28"/><path d="M4.2 4.2L9.8 9.8M9.8 4.2L4.2 9.8" stroke="#fff" stroke-width="1.5" stroke-linecap="round"/></svg>
<svg style="position:absolute;left:340px;top:537px" width="14" height="14" viewBox="0 0 14 14"><rect width="14" height="14" rx="3" fill="#1f4e15"/><path d="M3.2 6.4L5.5 8.9L10.9 4.2" stroke="#b9c2b2" stroke-width="1.2" stroke-linecap="round" stroke-linejoin="round" fill="none"/></svg>
<svg style="position:absolute;left:358px;top:537px" width="14" height="14" viewBox="0 0 14 14"><rect width="14" height="14" rx="3" fill="#cc3a28"/><path d="M4.2 4.2L9.8 9.8M9.8 4.2L4.2 9.8" stroke="#fff" stroke-width="1.5" stroke-linecap="round"/></svg>
<svg style="position:absolute;left:376px;top:537px" width="14" height="14" viewBox="0 0 14 14"><rect width="14" height="14" rx="3" fill="#cc3a28"/><path d="M4.2 4.2L9.8 9.8M9.8 4.2L4.2 9.8" stroke="#fff" stroke-width="1.5" stroke-linecap="round"/></svg>
<svg style="position:absolute;left:394px;top:537px" width="14" height="14" viewBox="0 0 14 14"><rect width="14" height="14" rx="3" fill="#cc3a28"/><path d="M4.2 4.2L9.8 9.8M9.8 4.2L4.2 9.8" stroke="#fff" stroke-width="1.5" stroke-linecap="round"/></svg>
<svg style="position:absolute;left:412px;top:537px" width="14" height="14" viewBox="0 0 14 14"><rect width="14" height="14" rx="3" fill="#1f4e15"/><path d="M3.2 6.4L5.5 8.9L10.9 4.2" stroke="#b9c2b2" stroke-width="1.2" stroke-linecap="round" stroke-linejoin="round" fill="none"/></svg>
<svg style="position:absolute;left:430px;top:537px" width="14" height="14" viewBox="0 0 14 14"><rect width="14" height="14" rx="3" fill="#cc3a28"/><path d="M4.2 4.2L9.8 9.8M9.8 4.2L4.2 9.8" stroke="#fff" stroke-width="1.5" stroke-linecap="round"/></svg>
<svg style="position:absolute;left:448px;top:537px" width="14" height="14" viewBox="0 0 14 14"><rect width="14" height="14" rx="3" fill="#1f4e15"/><path d="M3.2 6.4L5.5 8.9L10.9 4.2" stroke="#b9c2b2" stroke-width="1.2" stroke-linecap="round" stroke-linejoin="round" fill="none"/></svg>
<svg style="position:absolute;left:466px;top:537px" width="14" height="14" viewBox="0 0 14 14"><rect width="14" height="14" rx="3" fill="#1f4e15"/><path d="M3.2 6.4L5.5 8.9L10.9 4.2" stroke="#b9c2b2" stroke-width="1.2" stroke-linecap="round" stroke-linejoin="round" fill="none"/></svg>
<svg style="position:absolute;left:484px;top:537px" width="14" height="14" viewBox="0 0 14 14"><rect width="14" height="14" rx="3" fill="#1f4e15"/><path d="M3.2 6.4L5.5 8.9L10.9 4.2" stroke="#b9c2b2" stroke-width="1.2" stroke-linecap="round" stroke-linejoin="round" fill="none"/></svg>
<div class="t" style="left:98px;top:555.0px;font-size:14px;line-height:18px;color:#e4e4e7;font-weight:400;">end_chain_linear</div>
<div style="position:absolute;left:90px;top:572px;width:218px;height:1px;background:#1b1b1e"></div>
<svg style="position:absolute;left:322px;top:557px" width="14" height="14" viewBox="0 0 14 14"><rect width="14" height="14" rx="3" fill="#1f4e15"/><path d="M3.2 6.4L5.5 8.9L10.9 4.2" stroke="#b9c2b2" stroke-width="1.2" stroke-linecap="round" stroke-linejoin="round" fill="none"/></svg>
<svg style="position:absolute;left:340px;top:557px" width="14" height="14" viewBox="0 0 14 14"><rect width="14" height="14" rx="3" fill="#1f4e15"/><path d="M3.2 6.4L5.5 8.9L10.9 4.2" stroke="#b9c2b2" stroke-width="1.2" stroke-linecap="round" stroke-linejoin="round" fill="none"/></svg>
<svg style="position:absolute;left:358px;top:557px" width="14" height="14" viewBox="0 0 14 14"><rect width="14" height="14" rx="3" fill="#1f4e15"/><path d="M3.2 6.4L5.5 8.9L10.9 4.2" stroke="#b9c2b2" stroke-width="1.2" stroke-linecap="round" stroke-linejoin="round" fill="none"/></svg>
<svg style="position:absolute;left:376px;top:557px" width="14" height="14" viewBox="0 0 14 14"><rect width="14" height="14" rx="3" fill="#1f4e15"/><path d="M3.2 6.4L5.5 8.9L10.9 4.2" stroke="#b9c2b2" stroke-width="1.2" stroke-linecap="round" stroke-linejoin="round" fill="none"/></svg>
<svg style="position:absolute;left:394px;top:557px" width="14" height="14" viewBox="0 0 14 14"><rect width="14" height="14" rx="3" fill="#1f4e15"/><path d="M3.2 6.4L5.5 8.9L10.9 4.2" stroke="#b9c2b2" stroke-width="1.2" stroke-linecap="round" stroke-linejoin="round" fill="none"/></svg>
<svg style="position:absolute;left:412px;top:557px" width="14" height="14" viewBox="0 0 14 14"><rect width="14" height="14" rx="3" fill="#1f4e15"/><path d="M3.2 6.4L5.5 8.9L10.9 4.2" stroke="#b9c2b2" stroke-width="1.2" stroke-linecap="round" stroke-linejoin="round" fill="none"/></svg>
<svg style="position:absolute;left:430px;top:557px" width="14" height="14" viewBox="0 0 14 14"><rect width="14" height="14" rx="3" fill="#1f4e15"/><path d="M3.2 6.4L5.5 8.9L10.9 4.2" stroke="#b9c2b2" stroke-width="1.2" stroke-linecap="round" stroke-linejoin="round" fill="none"/></svg>
<svg style="position:absolute;left:448px;top:557px" width="14" height="14" viewBox="0 0 14 14"><rect width="14" height="14" rx="3" fill="#1f4e15"/><path d="M3.2 6.4L5.5 8.9L10.9 4.2" stroke="#b9c2b2" stroke-width="1.2" stroke-linecap="round" stroke-linejoin="round" fill="none"/></svg>
<svg style="position:absolute;left:466px;top:557px" width="14" height="14" viewBox="0 0 14 14"><rect width="14" height="14" rx="3" fill="#1f4e15"/><path d="M3.2 6.4L5.5 8.9L10.9 4.2" stroke="#b9c2b2" stroke-width="1.2" stroke-linecap="round" stroke-linejoin="round" fill="none"/></svg>
<svg style="position:absolute;left:484px;top:557px" width="14" height="14" viewBox="0 0 14 14"><rect width="14" height="14" rx="3" fill="#1f4e15"/><path d="M3.2 6.4L5.5 8.9L10.9 4.2" stroke="#b9c2b2" stroke-width="1.2" stroke-linecap="round" stroke-linejoin="round" fill="none"/></svg>
<div class="t" style="left:98px;top:575.0px;font-size:14px;line-height:18px;color:#e4e4e7;font-weight:400;">chain_t12</div>
<div style="position:absolute;left:90px;top:592px;width:218px;height:1px;background:#1b1b1e"></div>
<svg style="position:absolute;left:322px;top:577px" width="14" height="14" viewBox="0 0 14 14"><rect width="14" height="14" rx="3" fill="#f07d2d"/><circle cx="7" cy="7" r="4.5" stroke="#3b1c05" stroke-width="1.15" stroke-dasharray="4.4 1.25" transform="rotate(-120 7 7)" fill="none"/><circle cx="7" cy="7" r="1.9" fill="#5a2a08"/><circle cx="7" cy="5.6" r="0.8" fill="#2a1204"/></svg>
<svg style="position:absolute;left:340px;top:577px" width="14" height="14" viewBox="0 0 14 14"><rect width="14" height="14" rx="3" fill="#1f4e15"/><path d="M3.2 6.4L5.5 8.9L10.9 4.2" stroke="#b9c2b2" stroke-width="1.2" stroke-linecap="round" stroke-linejoin="round" fill="none"/></svg>
<svg style="position:absolute;left:358px;top:577px" width="14" height="14" viewBox="0 0 14 14"><rect width="14" height="14" rx="3" fill="#f07d2d"/><circle cx="7" cy="7" r="4.5" stroke="#3b1c05" stroke-width="1.15" stroke-dasharray="4.4 1.25" transform="rotate(-120 7 7)" fill="none"/><circle cx="7" cy="7" r="1.9" fill="#5a2a08"/><circle cx="7" cy="5.6" r="0.8" fill="#2a1204"/></svg>
<svg style="position:absolute;left:376px;top:577px" width="14" height="14" viewBox="0 0 14 14"><rect width="14" height="14" rx="3" fill="#f07d2d"/><circle cx="7" cy="7" r="4.5" stroke="#3b1c05" stroke-width="1.15" stroke-dasharray="4.4 1.25" transform="rotate(-120 7 7)" fill="none"/><circle cx="7" cy="7" r="1.9" fill="#5a2a08"/><circle cx="7" cy="5.6" r="0.8" fill="#2a1204"/></svg>
<svg style="position:absolute;left:394px;top:577px" width="14" height="14" viewBox="0 0 14 14"><rect width="14" height="14" rx="3" fill="#f07d2d"/><circle cx="7" cy="7" r="4.5" stroke="#3b1c05" stroke-width="1.15" stroke-dasharray="4.4 1.25" transform="rotate(-120 7 7)" fill="none"/><circle cx="7" cy="7" r="1.9" fill="#5a2a08"/><circle cx="7" cy="5.6" r="0.8" fill="#2a1204"/></svg>
<svg style="position:absolute;left:412px;top:577px" width="14" height="14" viewBox="0 0 14 14"><rect width="14" height="14" rx="3" fill="#1f4e15"/><path d="M3.2 6.4L5.5 8.9L10.9 4.2" stroke="#b9c2b2" stroke-width="1.2" stroke-linecap="round" stroke-linejoin="round" fill="none"/></svg>
<svg style="position:absolute;left:430px;top:577px" width="14" height="14" viewBox="0 0 14 14"><rect width="14" height="14" rx="3" fill="#f07d2d"/><circle cx="7" cy="7" r="4.5" stroke="#3b1c05" stroke-width="1.15" stroke-dasharray="4.4 1.25" transform="rotate(-120 7 7)" fill="none"/><circle cx="7" cy="7" r="1.9" fill="#5a2a08"/><circle cx="7" cy="5.6" r="0.8" fill="#2a1204"/></svg>
<svg style="position:absolute;left:448px;top:577px" width="14" height="14" viewBox="0 0 14 14"><rect width="14" height="14" rx="3" fill="#1f4e15"/><path d="M3.2 6.4L5.5 8.9L10.9 4.2" stroke="#b9c2b2" stroke-width="1.2" stroke-linecap="round" stroke-linejoin="round" fill="none"/></svg>
<svg style="position:absolute;left:466px;top:577px" width="14" height="14" viewBox="0 0 14 14"><rect width="14" height="14" rx="3" fill="#1f4e15"/><path d="M3.2 6.4L5.5 8.9L10.9 4.2" stroke="#b9c2b2" stroke-width="1.2" stroke-linecap="round" stroke-linejoin="round" fill="none"/></svg>
<svg style="position:absolute;left:484px;top:577px" width="14" height="14" viewBox="0 0 14 14"><rect width="14" height="14" rx="3" fill="#1f4e15"/><path d="M3.2 6.4L5.5 8.9L10.9 4.2" stroke="#b9c2b2" stroke-width="1.2" stroke-linecap="round" stroke-linejoin="round" fill="none"/></svg>
<div class="t" style="left:98px;top:595.0px;font-size:14px;line-height:18px;color:#e4e4e7;font-weight:400;">chain_t13</div>
<div style="position:absolute;left:90px;top:612px;width:218px;height:1px;background:#1b1b1e"></div>
<svg style="position:absolute;left:322px;top:597px" width="14" height="14" viewBox="0 0 14 14"><rect width="14" height="14" rx="3" fill="#f07d2d"/><circle cx="7" cy="7" r="4.5" stroke="#3b1c05" stroke-width="1.15" stroke-dasharray="4.4 1.25" transform="rotate(-120 7 7)" fill="none"/><circle cx="7" cy="7" r="1.9" fill="#5a2a08"/><circle cx="7" cy="5.6" r="0.8" fill="#2a1204"/></svg>
<svg style="position:absolute;left:340px;top:597px" width="14" height="14" viewBox="0 0 14 14"><rect width="14" height="14" rx="3" fill="#1f4e15"/><path d="M3.2 6.4L5.5 8.9L10.9 4.2" stroke="#b9c2b2" stroke-width="1.2" stroke-linecap="round" stroke-linejoin="round" fill="none"/></svg>
<svg style="position:absolute;left:358px;top:597px" width="14" height="14" viewBox="0 0 14 14"><rect width="14" height="14" rx="3" fill="#f07d2d"/><circle cx="7" cy="7" r="4.5" stroke="#3b1c05" stroke-width="1.15" stroke-dasharray="4.4 1.25" transform="rotate(-120 7 7)" fill="none"/><circle cx="7" cy="7" r="1.9" fill="#5a2a08"/><circle cx="7" cy="5.6" r="0.8" fill="#2a1204"/></svg>
<svg style="position:absolute;left:376px;top:597px" width="14" height="14" viewBox="0 0 14 14"><rect width="14" height="14" rx="3" fill="#f07d2d"/><circle cx="7" cy="7" r="4.5" stroke="#3b1c05" stroke-width="1.15" stroke-dasharray="4.4 1.25" transform="rotate(-120 7 7)" fill="none"/><circle cx="7" cy="7" r="1.9" fill="#5a2a08"/><circle cx="7" cy="5.6" r="0.8" fill="#2a1204"/></svg>
<svg style="position:absolute;left:394px;top:597px" width="14" height="14" viewBox="0 0 14 14"><rect width="14" height="14" rx="3" fill="#f07d2d"/><circle cx="7" cy="7" r="4.5" stroke="#3b1c05" stroke-width="1.15" stroke-dasharray="4.4 1.25" transform="rotate(-120 7 7)" fill="none"/><circle cx="7" cy="7" r="1.9" fill="#5a2a08"/><circle cx="7" cy="5.6" r="0.8" fill="#2a1204"/></svg>
<svg style="position:absolute;left:412px;top:597px" width="14" height="14" viewBox="0 0 14 14"><rect width="14" height="14" rx="3" fill="#1f4e15"/><path d="M3.2 6.4L5.5 8.9L10.9 4.2" stroke="#b9c2b2" stroke-width="1.2" stroke-linecap="round" stroke-linejoin="round" fill="none"/></svg>
<svg style="position:absolute;left:430px;top:597px" width="14" height="14" viewBox="0 0 14 14"><rect width="14" height="14" rx="3" fill="#f07d2d"/><circle cx="7" cy="7" r="4.5" stroke="#3b1c05" stroke-width="1.15" stroke-dasharray="4.4 1.25" transform="rotate(-120 7 7)" fill="none"/><circle cx="7" cy="7" r="1.9" fill="#5a2a08"/><circle cx="7" cy="5.6" r="0.8" fill="#2a1204"/></svg>
<svg style="position:absolute;left:448px;top:597px" width="14" height="14" viewBox="0 0 14 14"><rect width="14" height="14" rx="3" fill="#1f4e15"/><path d="M3.2 6.4L5.5 8.9L10.9 4.2" stroke="#b9c2b2" stroke-width="1.2" stroke-linecap="round" stroke-linejoin="round" fill="none"/></svg>
<svg style="position:absolute;left:466px;top:597px" width="14" height="14" viewBox="0 0 14 14"><rect width="14" height="14" rx="3" fill="#1f4e15"/><path d="M3.2 6.4L5.5 8.9L10.9 4.2" stroke="#b9c2b2" stroke-width="1.2" stroke-linecap="round" stroke-linejoin="round" fill="none"/></svg>
<svg style="position:absolute;left:484px;top:597px" width="14" height="14" viewBox="0 0 14 14"><rect width="14" height="14" rx="3" fill="#1f4e15"/><path d="M3.2 6.4L5.5 8.9L10.9 4.2" stroke="#b9c2b2" stroke-width="1.2" stroke-linecap="round" stroke-linejoin="round" fill="none"/></svg>
<div class="t" style="left:98px;top:615.0px;font-size:14px;line-height:18px;color:#e4e4e7;font-weight:400;">chain_t14</div>
<div style="position:absolute;left:90px;top:632px;width:218px;height:1px;background:#1b1b1e"></div>
<svg style="position:absolute;left:322px;top:617px" width="14" height="14" viewBox="0 0 14 14"><rect width="14" height="14" rx="3" fill="#f07d2d"/><circle cx="7" cy="7" r="4.5" stroke="#3b1c05" stroke-width="1.15" stroke-dasharray="4.4 1.25" transform="rotate(-120 7 7)" fill="none"/><circle cx="7" cy="7" r="1.9" fill="#5a2a08"/><circle cx="7" cy="5.6" r="0.8" fill="#2a1204"/></svg>
<svg style="position:absolute;left:340px;top:617px" width="14" height="14" viewBox="0 0 14 14"><rect width="14" height="14" rx="3" fill="#1f4e15"/><path d="M3.2 6.4L5.5 8.9L10.9 4.2" stroke="#b9c2b2" stroke-width="1.2" stroke-linecap="round" stroke-linejoin="round" fill="none"/></svg>
<svg style="position:absolute;left:358px;top:617px" width="14" height="14" viewBox="0 0 14 14"><rect width="14" height="14" rx="3" fill="#f07d2d"/><circle cx="7" cy="7" r="4.5" stroke="#3b1c05" stroke-width="1.15" stroke-dasharray="4.4 1.25" transform="rotate(-120 7 7)" fill="none"/><circle cx="7" cy="7" r="1.9" fill="#5a2a08"/><circle cx="7" cy="5.6" r="0.8" fill="#2a1204"/></svg>
<svg style="position:absolute;left:376px;top:617px" width="14" height="14" viewBox="0 0 14 14"><rect width="14" height="14" rx="3" fill="#f07d2d"/><circle cx="7" cy="7" r="4.5" stroke="#3b1c05" stroke-width="1.15" stroke-dasharray="4.4 1.25" transform="rotate(-120 7 7)" fill="none"/><circle cx="7" cy="7" r="1.9" fill="#5a2a08"/><circle cx="7" cy="5.6" r="0.8" fill="#2a1204"/></svg>
<svg style="position:absolute;left:394px;top:617px" width="14" height="14" viewBox="0 0 14 14"><rect width="14" height="14" rx="3" fill="#f07d2d"/><circle cx="7" cy="7" r="4.5" stroke="#3b1c05" stroke-width="1.15" stroke-dasharray="4.4 1.25" transform="rotate(-120 7 7)" fill="none"/><circle cx="7" cy="7" r="1.9" fill="#5a2a08"/><circle cx="7" cy="5.6" r="0.8" fill="#2a1204"/></svg>
<svg style="position:absolute;left:412px;top:617px" width="14" height="14" viewBox="0 0 14 14"><rect width="14" height="14" rx="3" fill="#1f4e15"/><path d="M3.2 6.4L5.5 8.9L10.9 4.2" stroke="#b9c2b2" stroke-width="1.2" stroke-linecap="round" stroke-linejoin="round" fill="none"/></svg>
<svg style="position:absolute;left:430px;top:617px" width="14" height="14" viewBox="0 0 14 14"><rect width="14" height="14" rx="3" fill="#f07d2d"/><circle cx="7" cy="7" r="4.5" stroke="#3b1c05" stroke-width="1.15" stroke-dasharray="4.4 1.25" transform="rotate(-120 7 7)" fill="none"/><circle cx="7" cy="7" r="1.9" fill="#5a2a08"/><circle cx="7" cy="5.6" r="0.8" fill="#2a1204"/></svg>
<svg style="position:absolute;left:448px;top:617px" width="14" height="14" viewBox="0 0 14 14"><rect width="14" height="14" rx="3" fill="#1f4e15"/><path d="M3.2 6.4L5.5 8.9L10.9 4.2" stroke="#b9c2b2" stroke-width="1.2" stroke-linecap="round" stroke-linejoin="round" fill="none"/></svg>
<svg style="position:absolute;left:466px;top:617px" width="14" height="14" viewBox="0 0 14 14"><rect width="14" height="14" rx="3" fill="#1f4e15"/><path d="M3.2 6.4L5.5 8.9L10.9 4.2" stroke="#b9c2b2" stroke-width="1.2" stroke-linecap="round" stroke-linejoin="round" fill="none"/></svg>
<svg style="position:absolute;left:484px;top:617px" width="14" height="14" viewBox="0 0 14 14"><rect width="14" height="14" rx="3" fill="#1f4e15"/><path d="M3.2 6.4L5.5 8.9L10.9 4.2" stroke="#b9c2b2" stroke-width="1.2" stroke-linecap="round" stroke-linejoin="round" fill="none"/></svg>
<div class="t" style="left:98px;top:635.0px;font-size:14px;line-height:18px;color:#e4e4e7;font-weight:400;">chain_t15</div>
<div style="position:absolute;left:90px;top:652px;width:218px;height:1px;background:#1b1b1e"></div>
<svg style="position:absolute;left:322px;top:637px" width="14" height="14" viewBox="0 0 14 14"><rect width="14" height="14" rx="3" fill="#f07d2d"/><circle cx="7" cy="7" r="4.5" stroke="#3b1c05" stroke-width="1.15" stroke-dasharray="4.4 1.25" transform="rotate(-120 7 7)" fill="none"/><circle cx="7" cy="7" r="1.9" fill="#5a2a08"/><circle cx="7" cy="5.6" r="0.8" fill="#2a1204"/></svg>
<svg style="position:absolute;left:340px;top:637px" width="14" height="14" viewBox="0 0 14 14"><rect width="14" height="14" rx="3" fill="#1f4e15"/><path d="M3.2 6.4L5.5 8.9L10.9 4.2" stroke="#b9c2b2" stroke-width="1.2" stroke-linecap="round" stroke-linejoin="round" fill="none"/></svg>
<svg style="position:absolute;left:358px;top:637px" width="14" height="14" viewBox="0 0 14 14"><rect width="14" height="14" rx="3" fill="#f07d2d"/><circle cx="7" cy="7" r="4.5" stroke="#3b1c05" stroke-width="1.15" stroke-dasharray="4.4 1.25" transform="rotate(-120 7 7)" fill="none"/><circle cx="7" cy="7" r="1.9" fill="#5a2a08"/><circle cx="7" cy="5.6" r="0.8" fill="#2a1204"/></svg>
<svg style="position:absolute;left:376px;top:637px" width="14" height="14" viewBox="0 0 14 14"><rect width="14" height="14" rx="3" fill="#f07d2d"/><circle cx="7" cy="7" r="4.5" stroke="#3b1c05" stroke-width="1.15" stroke-dasharray="4.4 1.25" transform="rotate(-120 7 7)" fill="none"/><circle cx="7" cy="7" r="1.9" fill="#5a2a08"/><circle cx="7" cy="5.6" r="0.8" fill="#2a1204"/></svg>
<svg style="position:absolute;left:394px;top:637px" width="14" height="14" viewBox="0 0 14 14"><rect width="14" height="14" rx="3" fill="#f07d2d"/><circle cx="7" cy="7" r="4.5" stroke="#3b1c05" stroke-width="1.15" stroke-dasharray="4.4 1.25" transform="rotate(-120 7 7)" fill="none"/><circle cx="7" cy="7" r="1.9" fill="#5a2a08"/><circle cx="7" cy="5.6" r="0.8" fill="#2a1204"/></svg>
<svg style="position:absolute;left:412px;top:637px" width="14" height="14" viewBox="0 0 14 14"><rect width="14" height="14" rx="3" fill="#1f4e15"/><path d="M3.2 6.4L5.5 8.9L10.9 4.2" stroke="#b9c2b2" stroke-width="1.2" stroke-linecap="round" stroke-linejoin="round" fill="none"/></svg>
<svg style="position:absolute;left:430px;top:637px" width="14" height="14" viewBox="0 0 14 14"><rect width="14" height="14" rx="3" fill="#f07d2d"/><circle cx="7" cy="7" r="4.5" stroke="#3b1c05" stroke-width="1.15" stroke-dasharray="4.4 1.25" transform="rotate(-120 7 7)" fill="none"/><circle cx="7" cy="7" r="1.9" fill="#5a2a08"/><circle cx="7" cy="5.6" r="0.8" fill="#2a1204"/></svg>
<svg style="position:absolute;left:448px;top:637px" width="14" height="14" viewBox="0 0 14 14"><rect width="14" height="14" rx="3" fill="#1f4e15"/><path d="M3.2 6.4L5.5 8.9L10.9 4.2" stroke="#b9c2b2" stroke-width="1.2" stroke-linecap="round" stroke-linejoin="round" fill="none"/></svg>
<svg style="position:absolute;left:466px;top:637px" width="14" height="14" viewBox="0 0 14 14"><rect width="14" height="14" rx="3" fill="#1f4e15"/><path d="M3.2 6.4L5.5 8.9L10.9 4.2" stroke="#b9c2b2" stroke-width="1.2" stroke-linecap="round" stroke-linejoin="round" fill="none"/></svg>
<svg style="position:absolute;left:484px;top:637px" width="14" height="14" viewBox="0 0 14 14"><rect width="14" height="14" rx="3" fill="#1f4e15"/><path d="M3.2 6.4L5.5 8.9L10.9 4.2" stroke="#b9c2b2" stroke-width="1.2" stroke-linecap="round" stroke-linejoin="round" fill="none"/></svg>
<div class="t" style="left:98px;top:655.0px;font-size:14px;line-height:18px;color:#e4e4e7;font-weight:400;">chain_t16</div>
<div style="position:absolute;left:90px;top:672px;width:218px;height:1px;background:#1b1b1e"></div>
<svg style="position:absolute;left:322px;top:657px" width="14" height="14" viewBox="0 0 14 14"><rect width="14" height="14" rx="3" fill="#f07d2d"/><circle cx="7" cy="7" r="4.5" stroke="#3b1c05" stroke-width="1.15" stroke-dasharray="4.4 1.25" transform="rotate(-120 7 7)" fill="none"/><circle cx="7" cy="7" r="1.9" fill="#5a2a08"/><circle cx="7" cy="5.6" r="0.8" fill="#2a1204"/></svg>
<svg style="position:absolute;left:340px;top:657px" width="14" height="14" viewBox="0 0 14 14"><rect width="14" height="14" rx="3" fill="#1f4e15"/><path d="M3.2 6.4L5.5 8.9L10.9 4.2" stroke="#b9c2b2" stroke-width="1.2" stroke-linecap="round" stroke-linejoin="round" fill="none"/></svg>
<svg style="position:absolute;left:358px;top:657px" width="14" height="14" viewBox="0 0 14 14"><rect width="14" height="14" rx="3" fill="#f07d2d"/><circle cx="7" cy="7" r="4.5" stroke="#3b1c05" stroke-width="1.15" stroke-dasharray="4.4 1.25" transform="rotate(-120 7 7)" fill="none"/><circle cx="7" cy="7" r="1.9" fill="#5a2a08"/><circle cx="7" cy="5.6" r="0.8" fill="#2a1204"/></svg>
<svg style="position:absolute;left:376px;top:657px" width="14" height="14" viewBox="0 0 14 14"><rect width="14" height="14" rx="3" fill="#f07d2d"/><circle cx="7" cy="7" r="4.5" stroke="#3b1c05" stroke-width="1.15" stroke-dasharray="4.4 1.25" transform="rotate(-120 7 7)" fill="none"/><circle cx="7" cy="7" r="1.9" fill="#5a2a08"/><circle cx="7" cy="5.6" r="0.8" fill="#2a1204"/></svg>
<svg style="position:absolute;left:394px;top:657px" width="14" height="14" viewBox="0 0 14 14"><rect width="14" height="14" rx="3" fill="#f07d2d"/><circle cx="7" cy="7" r="4.5" stroke="#3b1c05" stroke-width="1.15" stroke-dasharray="4.4 1.25" transform="rotate(-120 7 7)" fill="none"/><circle cx="7" cy="7" r="1.9" fill="#5a2a08"/><circle cx="7" cy="5.6" r="0.8" fill="#2a1204"/></svg>
<svg style="position:absolute;left:412px;top:657px" width="14" height="14" viewBox="0 0 14 14"><rect width="14" height="14" rx="3" fill="#1f4e15"/><path d="M3.2 6.4L5.5 8.9L10.9 4.2" stroke="#b9c2b2" stroke-width="1.2" stroke-linecap="round" stroke-linejoin="round" fill="none"/></svg>
<svg style="position:absolute;left:430px;top:657px" width="14" height="14" viewBox="0 0 14 14"><rect width="14" height="14" rx="3" fill="#f07d2d"/><circle cx="7" cy="7" r="4.5" stroke="#3b1c05" stroke-width="1.15" stroke-dasharray="4.4 1.25" transform="rotate(-120 7 7)" fill="none"/><circle cx="7" cy="7" r="1.9" fill="#5a2a08"/><circle cx="7" cy="5.6" r="0.8" fill="#2a1204"/></svg>
<svg style="position:absolute;left:448px;top:657px" width="14" height="14" viewBox="0 0 14 14"><rect width="14" height="14" rx="3" fill="#1f4e15"/><path d="M3.2 6.4L5.5 8.9L10.9 4.2" stroke="#b9c2b2" stroke-width="1.2" stroke-linecap="round" stroke-linejoin="round" fill="none"/></svg>
<svg style="position:absolute;left:466px;top:657px" width="14" height="14" viewBox="0 0 14 14"><rect width="14" height="14" rx="3" fill="#1f4e15"/><path d="M3.2 6.4L5.5 8.9L10.9 4.2" stroke="#b9c2b2" stroke-width="1.2" stroke-linecap="round" stroke-linejoin="round" fill="none"/></svg>
<svg style="position:absolute;left:484px;top:657px" width="14" height="14" viewBox="0 0 14 14"><rect width="14" height="14" rx="3" fill="#1f4e15"/><path d="M3.2 6.4L5.5 8.9L10.9 4.2" stroke="#b9c2b2" stroke-width="1.2" stroke-linecap="round" stroke-linejoin="round" fill="none"/></svg>
<div class="t" style="left:98px;top:675.0px;font-size:14px;line-height:18px;color:#e4e4e7;font-weight:400;">chain_t17</div>
<div style="position:absolute;left:90px;top:692px;width:218px;height:1px;background:#1b1b1e"></div>
<svg style="position:absolute;left:322px;top:677px" width="14" height="14" viewBox="0 0 14 14"><rect width="14" height="14" rx="3" fill="#f07d2d"/><circle cx="7" cy="7" r="4.5" stroke="#3b1c05" stroke-width="1.15" stroke-dasharray="4.4 1.25" transform="rotate(-120 7 7)" fill="none"/><circle cx="7" cy="7" r="1.9" fill="#5a2a08"/><circle cx="7" cy="5.6" r="0.8" fill="#2a1204"/></svg>
<svg style="position:absolute;left:340px;top:677px" width="14" height="14" viewBox="0 0 14 14"><rect width="14" height="14" rx="3" fill="#1f4e15"/><path d="M3.2 6.4L5.5 8.9L10.9 4.2" stroke="#b9c2b2" stroke-width="1.2" stroke-linecap="round" stroke-linejoin="round" fill="none"/></svg>
<svg style="position:absolute;left:358px;top:677px" width="14" height="14" viewBox="0 0 14 14"><rect width="14" height="14" rx="3" fill="#f07d2d"/><circle cx="7" cy="7" r="4.5" stroke="#3b1c05" stroke-width="1.15" stroke-dasharray="4.4 1.25" transform="rotate(-120 7 7)" fill="none"/><circle cx="7" cy="7" r="1.9" fill="#5a2a08"/><circle cx="7" cy="5.6" r="0.8" fill="#2a1204"/></svg>
<svg style="position:absolute;left:376px;top:677px" width="14" height="14" viewBox="0 0 14 14"><rect width="14" height="14" rx="3" fill="#f07d2d"/><circle cx="7" cy="7" r="4.5" stroke="#3b1c05" stroke-width="1.15" stroke-dasharray="4.4 1.25" transform="rotate(-120 7 7)" fill="none"/><circle cx="7" cy="7" r="1.9" fill="#5a2a08"/><circle cx="7" cy="5.6" r="0.8" fill="#2a1204"/></svg>
<svg style="position:absolute;left:394px;top:677px" width="14" height="14" viewBox="0 0 14 14"><rect width="14" height="14" rx="3" fill="#f07d2d"/><circle cx="7" cy="7" r="4.5" stroke="#3b1c05" stroke-width="1.15" stroke-dasharray="4.4 1.25" transform="rotate(-120 7 7)" fill="none"/><circle cx="7" cy="7" r="1.9" fill="#5a2a08"/><circle cx="7" cy="5.6" r="0.8" fill="#2a1204"/></svg>
<svg style="position:absolute;left:412px;top:677px" width="14" height="14" viewBox="0 0 14 14"><rect width="14" height="14" rx="3" fill="#1f4e15"/><path d="M3.2 6.4L5.5 8.9L10.9 4.2" stroke="#b9c2b2" stroke-width="1.2" stroke-linecap="round" stroke-linejoin="round" fill="none"/></svg>
<svg style="position:absolute;left:430px;top:677px" width="14" height="14" viewBox="0 0 14 14"><rect width="14" height="14" rx="3" fill="#f07d2d"/><circle cx="7" cy="7" r="4.5" stroke="#3b1c05" stroke-width="1.15" stroke-dasharray="4.4 1.25" transform="rotate(-120 7 7)" fill="none"/><circle cx="7" cy="7" r="1.9" fill="#5a2a08"/><circle cx="7" cy="5.6" r="0.8" fill="#2a1204"/></svg>
<svg style="position:absolute;left:448px;top:677px" width="14" height="14" viewBox="0 0 14 14"><rect width="14" height="14" rx="3" fill="#1f4e15"/><path d="M3.2 6.4L5.5 8.9L10.9 4.2" stroke="#b9c2b2" stroke-width="1.2" stroke-linecap="round" stroke-linejoin="round" fill="none"/></svg>
<svg style="position:absolute;left:466px;top:677px" width="14" height="14" viewBox="0 0 14 14"><rect width="14" height="14" rx="3" fill="#1f4e15"/><path d="M3.2 6.4L5.5 8.9L10.9 4.2" stroke="#b9c2b2" stroke-width="1.2" stroke-linecap="round" stroke-linejoin="round" fill="none"/></svg>
<svg style="position:absolute;left:484px;top:677px" width="14" height="14" viewBox="0 0 14 14"><rect width="14" height="14" rx="3" fill="#1f4e15"/><path d="M3.2 6.4L5.5 8.9L10.9 4.2" stroke="#b9c2b2" stroke-width="1.2" stroke-linecap="round" stroke-linejoin="round" fill="none"/></svg>
<div class="t" style="left:98px;top:695.0px;font-size:14px;line-height:18px;color:#e4e4e7;font-weight:400;">empty_2</div>
<div style="position:absolute;left:90px;top:712px;width:218px;height:1px;background:#1b1b1e"></div>
<svg style="position:absolute;left:322px;top:697px" width="14" height="14" viewBox="0 0 14 14"><rect width="14" height="14" rx="3" fill="#f07d2d"/><circle cx="7" cy="7" r="4.5" stroke="#3b1c05" stroke-width="1.15" stroke-dasharray="4.4 1.25" transform="rotate(-120 7 7)" fill="none"/><circle cx="7" cy="7" r="1.9" fill="#5a2a08"/><circle cx="7" cy="5.6" r="0.8" fill="#2a1204"/></svg>
<svg style="position:absolute;left:340px;top:697px" width="14" height="14" viewBox="0 0 14 14"><rect width="14" height="14" rx="3" fill="#1f4e15"/><path d="M3.2 6.4L5.5 8.9L10.9 4.2" stroke="#b9c2b2" stroke-width="1.2" stroke-linecap="round" stroke-linejoin="round" fill="none"/></svg>
<svg style="position:absolute;left:358px;top:697px" width="14" height="14" viewBox="0 0 14 14"><rect width="14" height="14" rx="3" fill="#f07d2d"/><circle cx="7" cy="7" r="4.5" stroke="#3b1c05" stroke-width="1.15" stroke-dasharray="4.4 1.25" transform="rotate(-120 7 7)" fill="none"/><circle cx="7" cy="7" r="1.9" fill="#5a2a08"/><circle cx="7" cy="5.6" r="0.8" fill="#2a1204"/></svg>
<svg style="position:absolute;left:376px;top:697px" width="14" height="14" viewBox="0 0 14 14"><rect width="14" height="14" rx="3" fill="#f07d2d"/><circle cx="7" cy="7" r="4.5" stroke="#3b1c05" stroke-width="1.15" stroke-dasharray="4.4 1.25" transform="rotate(-120 7 7)" fill="none"/><circle cx="7" cy="7" r="1.9" fill="#5a2a08"/><circle cx="7" cy="5.6" r="0.8" fill="#2a1204"/></svg>
<svg style="position:absolute;left:394px;top:697px" width="14" height="14" viewBox="0 0 14 14"><rect width="14" height="14" rx="3" fill="#f07d2d"/><circle cx="7" cy="7" r="4.5" stroke="#3b1c05" stroke-width="1.15" stroke-dasharray="4.4 1.25" transform="rotate(-120 7 7)" fill="none"/><circle cx="7" cy="7" r="1.9" fill="#5a2a08"/><circle cx="7" cy="5.6" r="0.8" fill="#2a1204"/></svg>
<svg style="position:absolute;left:412px;top:697px" width="14" height="14" viewBox="0 0 14 14"><rect width="14" height="14" rx="3" fill="#1f4e15"/><path d="M3.2 6.4L5.5 8.9L10.9 4.2" stroke="#b9c2b2" stroke-width="1.2" stroke-linecap="round" stroke-linejoin="round" fill="none"/></svg>
<svg style="position:absolute;left:430px;top:697px" width="14" height="14" viewBox="0 0 14 14"><rect width="14" height="14" rx="3" fill="#f07d2d"/><circle cx="7" cy="7" r="4.5" stroke="#3b1c05" stroke-width="1.15" stroke-dasharray="4.4 1.25" transform="rotate(-120 7 7)" fill="none"/><circle cx="7" cy="7" r="1.9" fill="#5a2a08"/><circle cx="7" cy="5.6" r="0.8" fill="#2a1204"/></svg>
<svg style="position:absolute;left:448px;top:697px" width="14" height="14" viewBox="0 0 14 14"><rect width="14" height="14" rx="3" fill="#1f4e15"/><path d="M3.2 6.4L5.5 8.9L10.9 4.2" stroke="#b9c2b2" stroke-width="1.2" stroke-linecap="round" stroke-linejoin="round" fill="none"/></svg>
<svg style="position:absolute;left:466px;top:697px" width="14" height="14" viewBox="0 0 14 14"><rect width="14" height="14" rx="3" fill="#1f4e15"/><path d="M3.2 6.4L5.5 8.9L10.9 4.2" stroke="#b9c2b2" stroke-width="1.2" stroke-linecap="round" stroke-linejoin="round" fill="none"/></svg>
<svg style="position:absolute;left:484px;top:697px" width="14" height="14" viewBox="0 0 14 14"><rect width="14" height="14" rx="3" fill="#1f4e15"/><path d="M3.2 6.4L5.5 8.9L10.9 4.2" stroke="#b9c2b2" stroke-width="1.2" stroke-linecap="round" stroke-linejoin="round" fill="none"/></svg>
<div class="t" style="left:98px;top:715.0px;font-size:14px;line-height:18px;color:#e4e4e7;font-weight:400;">chain_t18</div>
<div style="position:absolute;left:90px;top:732px;width:218px;height:1px;background:#1b1b1e"></div>
<svg style="position:absolute;left:322px;top:717px" width="14" height="14" viewBox="0 0 14 14"><rect width="14" height="14" rx="3" fill="#f07d2d"/><circle cx="7" cy="7" r="4.5" stroke="#3b1c05" stroke-width="1.15" stroke-dasharray="4.4 1.25" transform="rotate(-120 7 7)" fill="none"/><circle cx="7" cy="7" r="1.9" fill="#5a2a08"/><circle cx="7" cy="5.6" r="0.8" fill="#2a1204"/></svg>
<svg style="position:absolute;left:340px;top:717px" width="14" height="14" viewBox="0 0 14 14"><rect width="14" height="14" rx="3" fill="#1f4e15"/><path d="M3.2 6.4L5.5 8.9L10.9 4.2" stroke="#b9c2b2" stroke-width="1.2" stroke-linecap="round" stroke-linejoin="round" fill="none"/></svg>
<svg style="position:absolute;left:358px;top:717px" width="14" height="14" viewBox="0 0 14 14"><rect width="14" height="14" rx="3" fill="#f07d2d"/><circle cx="7" cy="7" r="4.5" stroke="#3b1c05" stroke-width="1.15" stroke-dasharray="4.4 1.25" transform="rotate(-120 7 7)" fill="none"/><circle cx="7" cy="7" r="1.9" fill="#5a2a08"/><circle cx="7" cy="5.6" r="0.8" fill="#2a1204"/></svg>
<svg style="position:absolute;left:376px;top:717px" width="14" height="14" viewBox="0 0 14 14"><rect width="14" height="14" rx="3" fill="#f07d2d"/><circle cx="7" cy="7" r="4.5" stroke="#3b1c05" stroke-width="1.15" stroke-dasharray="4.4 1.25" transform="rotate(-120 7 7)" fill="none"/><circle cx="7" cy="7" r="1.9" fill="#5a2a08"/><circle cx="7" cy="5.6" r="0.8" fill="#2a1204"/></svg>
<svg style="position:absolute;left:394px;top:717px" width="14" height="14" viewBox="0 0 14 14"><rect width="14" height="14" rx="3" fill="#f07d2d"/><circle cx="7" cy="7" r="4.5" stroke="#3b1c05" stroke-width="1.15" stroke-dasharray="4.4 1.25" transform="rotate(-120 7 7)" fill="none"/><circle cx="7" cy="7" r="1.9" fill="#5a2a08"/><circle cx="7" cy="5.6" r="0.8" fill="#2a1204"/></svg>
<svg style="position:absolute;left:412px;top:717px" width="14" height="14" viewBox="0 0 14 14"><rect width="14" height="14" rx="3" fill="#1f4e15"/><path d="M3.2 6.4L5.5 8.9L10.9 4.2" stroke="#b9c2b2" stroke-width="1.2" stroke-linecap="round" stroke-linejoin="round" fill="none"/></svg>
<svg style="position:absolute;left:430px;top:717px" width="14" height="14" viewBox="0 0 14 14"><rect width="14" height="14" rx="3" fill="#f07d2d"/><circle cx="7" cy="7" r="4.5" stroke="#3b1c05" stroke-width="1.15" stroke-dasharray="4.4 1.25" transform="rotate(-120 7 7)" fill="none"/><circle cx="7" cy="7" r="1.9" fill="#5a2a08"/><circle cx="7" cy="5.6" r="0.8" fill="#2a1204"/></svg>
<svg style="position:absolute;left:448px;top:717px" width="14" height="14" viewBox="0 0 14 14"><rect width="14" height="14" rx="3" fill="#1f4e15"/><path d="M3.2 6.4L5.5 8.9L10.9 4.2" stroke="#b9c2b2" stroke-width="1.2" stroke-linecap="round" stroke-linejoin="round" fill="none"/></svg>
<svg style="position:absolute;left:466px;top:717px" width="14" height="14" viewBox="0 0 14 14"><rect width="14" height="14" rx="3" fill="#1f4e15"/><path d="M3.2 6.4L5.5 8.9L10.9 4.2" stroke="#b9c2b2" stroke-width="1.2" stroke-linecap="round" stroke-linejoin="round" fill="none"/></svg>
<svg style="position:absolute;left:484px;top:717px" width="14" height="14" viewBox="0 0 14 14"><rect width="14" height="14" rx="3" fill="#1f4e15"/><path d="M3.2 6.4L5.5 8.9L10.9 4.2" stroke="#b9c2b2" stroke-width="1.2" stroke-linecap="round" stroke-linejoin="round" fill="none"/></svg>
<div class="t" style="left:98px;top:735.0px;font-size:14px;line-height:18px;color:#e4e4e7;font-weight:400;">chain_t19</div>
<div style="position:absolute;left:90px;top:752px;width:218px;height:1px;background:#1b1b1e"></div>
<svg style="position:absolute;left:322px;top:737px" width="14" height="14" viewBox="0 0 14 14"><rect width="14" height="14" rx="3" fill="#f07d2d"/><circle cx="7" cy="7" r="4.5" stroke="#3b1c05" stroke-width="1.15" stroke-dasharray="4.4 1.25" transform="rotate(-120 7 7)" fill="none"/><circle cx="7" cy="7" r="1.9" fill="#5a2a08"/><circle cx="7" cy="5.6" r="0.8" fill="#2a1204"/></svg>
<svg style="position:absolute;left:340px;top:737px" width="14" height="14" viewBox="0 0 14 14"><rect width="14" height="14" rx="3" fill="#1f4e15"/><path d="M3.2 6.4L5.5 8.9L10.9 4.2" stroke="#b9c2b2" stroke-width="1.2" stroke-linecap="round" stroke-linejoin="round" fill="none"/></svg>
<svg style="position:absolute;left:358px;top:737px" width="14" height="14" viewBox="0 0 14 14"><rect width="14" height="14" rx="3" fill="#f07d2d"/><circle cx="7" cy="7" r="4.5" stroke="#3b1c05" stroke-width="1.15" stroke-dasharray="4.4 1.25" transform="rotate(-120 7 7)" fill="none"/><circle cx="7" cy="7" r="1.9" fill="#5a2a08"/><circle cx="7" cy="5.6" r="0.8" fill="#2a1204"/></svg>
<svg style="position:absolute;left:376px;top:737px" width="14" height="14" viewBox="0 0 14 14"><rect width="14" height="14" rx="3" fill="#f07d2d"/><circle cx="7" cy="7" r="4.5" stroke="#3b1c05" stroke-width="1.15" stroke-dasharray="4.4 1.25" transform="rotate(-120 7 7)" fill="none"/><circle cx="7" cy="7" r="1.9" fill="#5a2a08"/><circle cx="7" cy="5.6" r="0.8" fill="#2a1204"/></svg>
<svg style="position:absolute;left:394px;top:737px" width="14" height="14" viewBox="0 0 14 14"><rect width="14" height="14" rx="3" fill="#f07d2d"/><circle cx="7" cy="7" r="4.5" stroke="#3b1c05" stroke-width="1.15" stroke-dasharray="4.4 1.25" transform="rotate(-120 7 7)" fill="none"/><circle cx="7" cy="7" r="1.9" fill="#5a2a08"/><circle cx="7" cy="5.6" r="0.8" fill="#2a1204"/></svg>
<svg style="position:absolute;left:412px;top:737px" width="14" height="14" viewBox="0 0 14 14"><rect width="14" height="14" rx="3" fill="#1f4e15"/><path d="M3.2 6.4L5.5 8.9L10.9 4.2" stroke="#b9c2b2" stroke-width="1.2" stroke-linecap="round" stroke-linejoin="round" fill="none"/></svg>
<svg style="position:absolute;left:430px;top:737px" width="14" height="14" viewBox="0 0 14 14"><rect width="14" height="14" rx="3" fill="#f07d2d"/><circle cx="7" cy="7" r="4.5" stroke="#3b1c05" stroke-width="1.15" stroke-dasharray="4.4 1.25" transform="rotate(-120 7 7)" fill="none"/><circle cx="7" cy="7" r="1.9" fill="#5a2a08"/><circle cx="7" cy="5.6" r="0.8" fill="#2a1204"/></svg>
<svg style="position:absolute;left:448px;top:737px" width="14" height="14" viewBox="0 0 14 14"><rect width="14" height="14" rx="3" fill="#1f4e15"/><path d="M3.2 6.4L5.5 8.9L10.9 4.2" stroke="#b9c2b2" stroke-width="1.2" stroke-linecap="round" stroke-linejoin="round" fill="none"/></svg>
<svg style="position:absolute;left:466px;top:737px" width="14" height="14" viewBox="0 0 14 14"><rect width="14" height="14" rx="3" fill="#1f4e15"/><path d="M3.2 6.4L5.5 8.9L10.9 4.2" stroke="#b9c2b2" stroke-width="1.2" stroke-linecap="round" stroke-linejoin="round" fill="none"/></svg>
<svg style="position:absolute;left:484px;top:737px" width="14" height="14" viewBox="0 0 14 14"><rect width="14" height="14" rx="3" fill="#1f4e15"/><path d="M3.2 6.4L5.5 8.9L10.9 4.2" stroke="#b9c2b2" stroke-width="1.2" stroke-linecap="round" stroke-linejoin="round" fill="none"/></svg>
<div class="t" style="left:98px;top:755.0px;font-size:14px;line-height:18px;color:#e4e4e7;font-weight:400;">end_chain</div>
<div style="position:absolute;left:90px;top:772px;width:218px;height:1px;background:#1b1b1e"></div>
<svg style="position:absolute;left:322px;top:757px" width="14" height="14" viewBox="0 0 14 14"><rect width="14" height="14" rx="3" fill="#f07d2d"/><circle cx="7" cy="7" r="4.5" stroke="#3b1c05" stroke-width="1.15" stroke-dasharray="4.4 1.25" transform="rotate(-120 7 7)" fill="none"/><circle cx="7" cy="7" r="1.9" fill="#5a2a08"/><circle cx="7" cy="5.6" r="0.8" fill="#2a1204"/></svg>
<svg style="position:absolute;left:340px;top:757px" width="14" height="14" viewBox="0 0 14 14"><rect width="14" height="14" rx="3" fill="#1f4e15"/><path d="M3.2 6.4L5.5 8.9L10.9 4.2" stroke="#b9c2b2" stroke-width="1.2" stroke-linecap="round" stroke-linejoin="round" fill="none"/></svg>
<svg style="position:absolute;left:358px;top:757px" width="14" height="14" viewBox="0 0 14 14"><rect width="14" height="14" rx="3" fill="#f07d2d"/><circle cx="7" cy="7" r="4.5" stroke="#3b1c05" stroke-width="1.15" stroke-dasharray="4.4 1.25" transform="rotate(-120 7 7)" fill="none"/><circle cx="7" cy="7" r="1.9" fill="#5a2a08"/><circle cx="7" cy="5.6" r="0.8" fill="#2a1204"/></svg>
<svg style="position:absolute;left:376px;top:757px" width="14" height="14" viewBox="0 0 14 14"><rect width="14" height="14" rx="3" fill="#f07d2d"/><circle cx="7" cy="7" r="4.5" stroke="#3b1c05" stroke-width="1.15" stroke-dasharray="4.4 1.25" transform="rotate(-120 7 7)" fill="none"/><circle cx="7" cy="7" r="1.9" fill="#5a2a08"/><circle cx="7" cy="5.6" r="0.8" fill="#2a1204"/></svg>
<svg style="position:absolute;left:394px;top:757px" width="14" height="14" viewBox="0 0 14 14"><rect width="14" height="14" rx="3" fill="#f07d2d"/><circle cx="7" cy="7" r="4.5" stroke="#3b1c05" stroke-width="1.15" stroke-dasharray="4.4 1.25" transform="rotate(-120 7 7)" fill="none"/><circle cx="7" cy="7" r="1.9" fill="#5a2a08"/><circle cx="7" cy="5.6" r="0.8" fill="#2a1204"/></svg>
<svg style="position:absolute;left:412px;top:757px" width="14" height="14" viewBox="0 0 14 14"><rect width="14" height="14" rx="3" fill="#1f4e15"/><path d="M3.2 6.4L5.5 8.9L10.9 4.2" stroke="#b9c2b2" stroke-width="1.2" stroke-linecap="round" stroke-linejoin="round" fill="none"/></svg>
<svg style="position:absolute;left:430px;top:757px" width="14" height="14" viewBox="0 0 14 14"><rect width="14" height="14" rx="3" fill="#f07d2d"/><circle cx="7" cy="7" r="4.5" stroke="#3b1c05" stroke-width="1.15" stroke-dasharray="4.4 1.25" transform="rotate(-120 7 7)" fill="none"/><circle cx="7" cy="7" r="1.9" fill="#5a2a08"/><circle cx="7" cy="5.6" r="0.8" fill="#2a1204"/></svg>
<svg style="position:absolute;left:448px;top:757px" width="14" height="14" viewBox="0 0 14 14"><rect width="14" height="14" rx="3" fill="#1f4e15"/><path d="M3.2 6.4L5.5 8.9L10.9 4.2" stroke="#b9c2b2" stroke-width="1.2" stroke-linecap="round" stroke-linejoin="round" fill="none"/></svg>
<svg style="position:absolute;left:466px;top:757px" width="14" height="14" viewBox="0 0 14 14"><rect width="14" height="14" rx="3" fill="#1f4e15"/><path d="M3.2 6.4L5.5 8.9L10.9 4.2" stroke="#b9c2b2" stroke-width="1.2" stroke-linecap="round" stroke-linejoin="round" fill="none"/></svg>
<svg style="position:absolute;left:484px;top:757px" width="14" height="14" viewBox="0 0 14 14"><rect width="14" height="14" rx="3" fill="#1f4e15"/><path d="M3.2 6.4L5.5 8.9L10.9 4.2" stroke="#b9c2b2" stroke-width="1.2" stroke-linecap="round" stroke-linejoin="round" fill="none"/></svg>
<div style="position:absolute;left:508px;top:63px;width:2px;height:1176px;background:#6e6e76"></div>
<div style="position:absolute;left:518px;top:63px;width:1188px;height:132px;border:1px solid #27272a;border-radius:7px;box-sizing:border-box"></div>
<svg style="position:absolute;left:527px;top:83px;" width="20" height="20" viewBox="0 0 20 20" fill="none"><g stroke="#e4e4e7" stroke-width="1.5" fill="none" stroke-linecap="round"><path d="M2.5 5.8H13.6"/><circle cx="16.4" cy="5.8" r="2.8"/><path d="M5.8 5.8V14.5a2 2 0 0 0 2 2H11"/><circle cx="13.8" cy="16.5" r="2.8"/></g></svg>
<div class="t" style="left:555.5px;top:81.0px;font-size:17.4px;line-height:22px;color:#fafafa;font-weight:700;">toy_chain_linear_vs_chain_complex</div>
<div style="position:absolute;left:866px;top:85px;width:32px;height:16px;background:#3b58e0;border-radius:8px"></div>
<div style="position:absolute;left:883px;top:86px;width:14px;height:14px;background:#fff;border-radius:7px"></div>
<div style="position:absolute;left:1551px;top:72px;width:145px;height:40px;border:1px solid #27272a;border-radius:6px;box-sizing:border-box"></div>
<svg style="position:absolute;left:1568px;top:81px;" width="20" height="20" viewBox="0 0 20 20" fill="none"><g stroke="#e4e4e7" stroke-width="1.4" fill="none" stroke-linecap="round"><path d="M8.5 18.2H3.8V3.2H16.5V10.5"/><path d="M6 6.5H13.5M6 9.5H9.5"/><circle cx="13.4" cy="15.5" r="3.1" stroke-dasharray="14 2"/></g></svg>
<div class="t" style="left:1596px;top:83.0px;font-size:14.2px;line-height:18px;color:#e4e4e7;font-weight:400;">Reparse Dag</div>
<div class="t" style="left:527.5px;top:126.7px;font-size:12.25px;line-height:16px;color:#a1a1aa;font-weight:700;">Schedule</div>
<div class="t" style="left:660.8px;top:126.7px;font-size:12.25px;line-height:16px;color:#a1a1aa;font-weight:700;">Latest Run</div>
<div class="t" style="left:922px;top:126.7px;font-size:12.25px;line-height:16px;color:#a1a1aa;font-weight:700;">Next Run</div>
<div class="t" style="left:1054px;top:126.7px;font-size:12.25px;line-height:16px;color:#a1a1aa;font-weight:700;">Owner</div>
<div class="t" style="left:1181.4px;top:126.7px;font-size:12.25px;line-height:16px;color:#a1a1aa;font-weight:700;">Tags</div>
<div class="t" style="left:1585.8px;top:126.7px;font-size:12.25px;line-height:16px;color:#a1a1aa;font-weight:700;">Latest Dag Version</div>
<div class="t" style="left:660.8px;top:155.5px;font-size:16px;line-height:20px;color:#fafafa;font-weight:400;">2025-04-21, 13:11:17</div>
<svg style="position:absolute;left:821px;top:154px;" width="22" height="22" viewBox="0 0 22 22" fill="none"><circle cx="11" cy="11" r="11" fill="#2d7418"/><path d="M6.8 11L9.8 14L15.6 8.2" stroke="#fff" stroke-width="1.6" stroke-linecap="round" stroke-linejoin="round" fill="none"/></svg>
<div class="t" style="left:1054px;top:156.0px;font-size:16.5px;line-height:20px;color:#fafafa;font-weight:400;">airflow</div>
<svg style="position:absolute;left:1181px;top:157px;" width="16" height="16" viewBox="0 0 24 24" fill="none"><path d="M12.586 2.586A2 2 0 0 0 11.172 2H4a2 2 0 0 0-2 2v7.172a2 2 0 0 0 .586 1.414l8.704 8.704a2.426 2.426 0 0 0 3.42 0l6.58-6.58a2.426 2.426 0 0 0 0-3.42z" stroke="#e4e4e7" stroke-width="2" stroke-linejoin="round"/><circle cx="7.5" cy="7.5" r="1" fill="#e4e4e7"/></svg>
<div class="t" style="left:1201.4px;top:156.0px;font-size:14.6px;line-height:18px;color:#e4e4e7;font-weight:400;">chain(), dependency_functions, core, , +2 more</div>
<div class="t" style="left:1586px;top:156.0px;font-size:16.5px;line-height:20px;color:#fafafa;font-weight:400;">v1</div>
<div style="position:absolute;left:511px;top:239px;width:1195px;height:1px;background:#27272a"></div>
<div class="t" style="left:526.6px;top:210.5px;font-size:16px;line-height:20px;color:#a1a1aa;font-weight:700;">Overview</div>
<div class="t" style="left:631.3px;top:210.5px;font-size:16px;line-height:20px;color:#a1a1aa;font-weight:700;">Runs</div>
<div class="t" style="left:702.4px;top:210.5px;font-size:16px;line-height:20px;color:#fafafa;font-weight:700;">Tasks</div>
<div class="t" style="left:778.5px;top:210.5px;font-size:16px;line-height:20px;color:#a1a1aa;font-weight:700;">Events</div>
<div class="t" style="left:862.8px;top:210.5px;font-size:16px;line-height:20px;color:#a1a1aa;font-weight:700;">Code</div>
<div class="t" style="left:935px;top:210.5px;font-size:16px;line-height:20px;color:#a1a1aa;font-weight:700;">Details</div>
<div style="position:absolute;left:686px;top:238px;width:76px;height:3px;background:#5a8def"></div>
<div class="t" style="left:518.6px;top:255.2px;font-size:16px;line-height:20px;color:#fafafa;font-weight:700;">28 Tasks</div>
<div style="position:absolute;left:0;top:0;width:1715px;height:1239px;overflow:hidden">
<div style="position:absolute;left:518px;top:286px;width:1180px;height:122px;border:1px solid #37373c;border-radius:8px;box-sizing:border-box"></div>
<div class="t" style="left:531px;top:297.0px;font-size:16.5px;line-height:20px;color:#9dc1fa;font-weight:700;">chain_linear_t0</div>
<div class="t" style="left:531px;top:325.5px;font-size:12.3px;line-height:16px;color:#a1a1aa;font-weight:700;">Operator</div>
<div class="t" style="left:823.7px;top:325.5px;font-size:12.3px;line-height:16px;color:#a1a1aa;font-weight:700;">Trigger Rule</div>
<div class="t" style="left:1116px;top:325.5px;font-size:12.3px;line-height:16px;color:#a1a1aa;font-weight:700;">Last Instance</div>
<div class="t" style="left:531px;top:355.2px;font-size:13.7px;line-height:18px;color:#e4e4e7;font-weight:400;">@task</div>
<div class="t" style="left:823.7px;top:354.5px;font-size:14.4px;line-height:18px;color:#e4e4e7;font-weight:400;">all_success</div>
<div class="t" style="left:1116px;top:354px;height:22px;display:flex;align-items:center;font-size:14.35px;line-height:22px;color:#a3bdec">2025-04-21, 13:11:20<svg style="margin-left:7px" width="22" height="22" viewBox="0 0 22 22"><circle cx="11" cy="11" r="11" fill="#2d7418"/><path d="M6.8 11L9.8 14L15.6 8.2" stroke="#fff" stroke-width="1.35" stroke-linecap="round" stroke-linejoin="round" fill="none"/></svg></div>
<div style="position:absolute;left:1521px;top:385px;width:4px;height:10px;background:#2e7318;border-radius:2px"></div>
<div style="position:absolute;left:1533px;top:381px;width:4px;height:14px;background:#2e7318;border-radius:2px"></div>
<div style="position:absolute;left:1545px;top:377px;width:4px;height:18px;background:#2e7318;border-radius:2px"></div>
<div style="position:absolute;left:1557px;top:381px;width:4px;height:14px;background:#2e7318;border-radius:2px"></div>
<div style="position:absolute;left:1569px;top:373px;width:4px;height:22px;background:#2e7318;border-radius:2px"></div>
<div style="position:absolute;left:1581px;top:367px;width:4px;height:28px;background:#2e7318;border-radius:2px"></div>
<div style="position:absolute;left:1593px;top:363px;width:4px;height:32px;background:#2e7318;border-radius:2px"></div>
<div style="position:absolute;left:1605px;top:356px;width:4px;height:39px;background:#2e7318;border-radius:2px"></div>
<div style="position:absolute;left:1617px;top:335px;width:4px;height:60px;background:#2e7318;border-radius:2px"></div>
<div style="position:absolute;left:1629px;top:378px;width:4px;height:17px;background:#2e7318;border-radius:2px"></div>
<div style="position:absolute;left:1641px;top:385px;width:4px;height:10px;background:#2e7318;border-radius:2px"></div>
<div style="position:absolute;left:1653px;top:378px;width:4px;height:17px;background:#2e7318;border-radius:2px"></div>
<div style="position:absolute;left:1665px;top:379px;width:4px;height:16px;background:#2e7318;border-radius:2px"></div>
<div style="position:absolute;left:1677px;top:366px;width:4px;height:29px;background:#2e7318;border-radius:2px"></div>
<div style="position:absolute;left:518px;top:416px;width:1180px;height:122px;border:1px solid #37373c;border-radius:8px;box-sizing:border-box"></div>
<div class="t" style="left:531px;top:427.0px;font-size:16.5px;line-height:20px;color:#9dc1fa;font-weight:700;">chain_linear_t1</div>
<div class="t" style="left:531px;top:455.5px;font-size:12.3px;line-height:16px;color:#a1a1aa;font-weight:700;">Operator</div>
<div class="t" style="left:823.7px;top:455.5px;font-size:12.3px;line-height:16px;color:#a1a1aa;font-weight:700;">Trigger Rule</div>
<div class="t" style="left:1116px;top:455.5px;font-size:12.3px;line-height:16px;color:#a1a1aa;font-weight:700;">Last Instance</div>
<div class="t" style="left:531px;top:485.2px;font-size:13.7px;line-height:18px;color:#e4e4e7;font-weight:400;">@task</div>
<div class="t" style="left:823.7px;top:484.5px;font-size:14.4px;line-height:18px;color:#e4e4e7;font-weight:400;">all_success</div>
<div class="t" style="left:1116px;top:484px;height:22px;display:flex;align-items:center;font-size:14.35px;line-height:22px;color:#a3bdec">2025-04-21, 13:11:20<svg style="margin-left:7px" width="22" height="22" viewBox="0 0 22 22"><circle cx="11" cy="11" r="11" fill="#2d7418"/><path d="M6.8 11L9.8 14L15.6 8.2" stroke="#fff" stroke-width="1.35" stroke-linecap="round" stroke-linejoin="round" fill="none"/></svg></div>
<div style="position:absolute;left:1521px;top:504px;width:4px;height:21px;background:#2e7318;border-radius:2px"></div>
<div style="position:absolute;left:1533px;top:487px;width:4px;height:38px;background:#2e7318;border-radius:2px"></div>
<div style="position:absolute;left:1545px;top:484px;width:4px;height:41px;background:#2e7318;border-radius:2px"></div>
<div style="position:absolute;left:1557px;top:498px;width:4px;height:27px;background:#2e7318;border-radius:2px"></div>
<div style="position:absolute;left:1569px;top:481px;width:4px;height:44px;background:#2e7318;border-radius:2px"></div>
<div style="position:absolute;left:1581px;top:468px;width:4px;height:57px;background:#2e7318;border-radius:2px"></div>
<div style="position:absolute;left:1593px;top:485px;width:4px;height:40px;background:#2e7318;border-radius:2px"></div>
<div style="position:absolute;left:1605px;top:489px;width:4px;height:36px;background:#2e7318;border-radius:2px"></div>
<div style="position:absolute;left:1617px;top:482px;width:4px;height:43px;background:#2e7318;border-radius:2px"></div>
<div style="position:absolute;left:1629px;top:497px;width:4px;height:28px;background:#2e7318;border-radius:2px"></div>
<div style="position:absolute;left:1641px;top:498px;width:4px;height:27px;background:#2e7318;border-radius:2px"></div>
<div style="position:absolute;left:1653px;top:491px;width:4px;height:34px;background:#2e7318;border-radius:2px"></div>
<div style="position:absolute;left:1665px;top:465px;width:4px;height:60px;background:#2e7318;border-radius:2px"></div>
<div style="position:absolute;left:1677px;top:470px;width:4px;height:55px;background:#2e7318;border-radius:2px"></div>
<div style="position:absolute;left:518px;top:546px;width:1180px;height:122px;border:1px solid #37373c;border-radius:8px;box-sizing:border-box"></div>
<div class="t" style="left:531px;top:557.0px;font-size:16.5px;line-height:20px;color:#9dc1fa;font-weight:700;">chain_linear_t2</div>
<div class="t" style="left:531px;top:585.5px;font-size:12.3px;line-height:16px;color:#a1a1aa;font-weight:700;">Operator</div>
<div class="t" style="left:823.7px;top:585.5px;font-size:12.3px;line-height:16px;color:#a1a1aa;font-weight:700;">Trigger Rule</div>
<div class="t" style="left:1116px;top:585.5px;font-size:12.3px;line-height:16px;color:#a1a1aa;font-weight:700;">Last Instance</div>
<div class="t" style="left:531px;top:615.2px;font-size:13.7px;line-height:18px;color:#e4e4e7;font-weight:400;">@task</div>
<div class="t" style="left:823.7px;top:614.5px;font-size:14.4px;line-height:18px;color:#e4e4e7;font-weight:400;">all_success</div>
<div class="t" style="left:1116px;top:614px;height:22px;display:flex;align-items:center;font-size:14.35px;line-height:22px;color:#a3bdec">2025-04-21, 13:11:21<svg style="margin-left:7px" width="22" height="22" viewBox="0 0 22 22"><circle cx="11" cy="11" r="11" fill="#2d7418"/><path d="M6.8 11L9.8 14L15.6 8.2" stroke="#fff" stroke-width="1.35" stroke-linecap="round" stroke-linejoin="round" fill="none"/></svg></div>
<div style="position:absolute;left:1521px;top:636px;width:4px;height:19px;background:#2e7318;border-radius:2px"></div>
<div style="position:absolute;left:1533px;top:638px;width:4px;height:17px;background:#2e7318;border-radius:2px"></div>
<div style="position:absolute;left:1545px;top:629px;width:4px;height:26px;background:#2e7318;border-radius:2px"></div>
<div style="position:absolute;left:1557px;top:616px;width:4px;height:39px;background:#2e7318;border-radius:2px"></div>
<div style="position:absolute;left:1569px;top:595px;width:4px;height:60px;background:#2e7318;border-radius:2px"></div>
<div style="position:absolute;left:1581px;top:606px;width:4px;height:49px;background:#2e7318;border-radius:2px"></div>
<div style="position:absolute;left:1593px;top:623px;width:4px;height:32px;background:#2e7318;border-radius:2px"></div>
<div style="position:absolute;left:1605px;top:616px;width:4px;height:39px;background:#2e7318;border-radius:2px"></div>
<div style="position:absolute;left:1617px;top:613px;width:4px;height:42px;background:#2e7318;border-radius:2px"></div>
<div style="position:absolute;left:1629px;top:629px;width:4px;height:26px;background:#2e7318;border-radius:2px"></div>
<div style="position:absolute;left:1641px;top:637px;width:4px;height:18px;background:#2e7318;border-radius:2px"></div>
<div style="position:absolute;left:1653px;top:618px;width:4px;height:37px;background:#2e7318;border-radius:2px"></div>
<div style="position:absolute;left:1665px;top:604px;width:4px;height:51px;background:#2e7318;border-radius:2px"></div>
<div style="position:absolute;left:1677px;top:621px;width:4px;height:34px;background:#2e7318;border-radius:2px"></div>
<div style="position:absolute;left:518px;top:676px;width:1180px;height:122px;border:1px solid #37373c;border-radius:8px;box-sizing:border-box"></div>
<div class="t" style="left:531px;top:687.0px;font-size:16.5px;line-height:20px;color:#9dc1fa;font-weight:700;">chain_linear_t3</div>
<div class="t" style="left:531px;top:715.5px;font-size:12.3px;line-height:16px;color:#a1a1aa;font-weight:700;">Operator</div>
<div class="t" style="left:823.7px;top:715.5px;font-size:12.3px;line-height:16px;color:#a1a1aa;font-weight:700;">Trigger Rule</div>
<div class="t" style="left:1116px;top:715.5px;font-size:12.3px;line-height:16px;color:#a1a1aa;font-weight:700;">Last Instance</div>
<div class="t" style="left:531px;top:745.2px;font-size:13.7px;line-height:18px;color:#e4e4e7;font-weight:400;">@task</div>
<div class="t" style="left:823.7px;top:744.5px;font-size:14.4px;line-height:18px;color:#e4e4e7;font-weight:400;">all_success</div>
<div class="t" style="left:1116px;top:744px;height:22px;display:flex;align-items:center;font-size:14.35px;line-height:22px;color:#a3bdec">2025-04-21, 13:11:21<svg style="margin-left:7px" width="22" height="22" viewBox="0 0 22 22"><circle cx="11" cy="11" r="11" fill="#2d7418"/><path d="M6.8 11L9.8 14L15.6 8.2" stroke="#fff" stroke-width="1.35" stroke-linecap="round" stroke-linejoin="round" fill="none"/></svg></div>
<div style="position:absolute;left:1521px;top:776px;width:4px;height:9px;background:#2e7318;border-radius:2px"></div>
<div style="position:absolute;left:1533px;top:774px;width:4px;height:11px;background:#2e7318;border-radius:2px"></div>
<div style="position:absolute;left:1545px;top:772px;width:4px;height:13px;background:#2e7318;border-radius:2px"></div>
<div style="position:absolute;left:1557px;top:764px;width:4px;height:21px;background:#2e7318;border-radius:2px"></div>
<div style="position:absolute;left:1569px;top:725px;width:4px;height:60px;background:#2e7318;border-radius:2px"></div>
<div style="position:absolute;left:1581px;top:749px;width:4px;height:36px;background:#2e7318;border-radius:2px"></div>
<div style="position:absolute;left:1593px;top:763px;width:4px;height:22px;background:#2e7318;border-radius:2px"></div>
<div style="position:absolute;left:1605px;top:763px;width:4px;height:22px;background:#2e7318;border-radius:2px"></div>
<div style="position:absolute;left:1617px;top:762px;width:4px;height:23px;background:#2e7318;border-radius:2px"></div>
<div style="position:absolute;left:1629px;top:772px;width:4px;height:13px;background:#2e7318;border-radius:2px"></div>
<div style="position:absolute;left:1641px;top:775px;width:4px;height:10px;background:#2e7318;border-radius:2px"></div>
<div style="position:absolute;left:1653px;top:771px;width:4px;height:14px;background:#2e7318;border-radius:2px"></div>
<div style="position:absolute;left:1665px;top:766px;width:4px;height:19px;background:#2e7318;border-radius:2px"></div>
<div style="position:absolute;left:1677px;top:768px;width:4px;height:17px;background:#2e7318;border-radius:2px"></div>
<div style="position:absolute;left:518px;top:806px;width:1180px;height:122px;border:1px solid #37373c;border-radius:8px;box-sizing:border-box"></div>
<div class="t" style="left:531px;top:817.0px;font-size:16.5px;line-height:20px;color:#9dc1fa;font-weight:700;">chain_linear_t4</div>
<div class="t" style="left:531px;top:845.5px;font-size:12.3px;line-height:16px;color:#a1a1aa;font-weight:700;">Operator</div>
<div class="t" style="left:823.7px;top:845.5px;font-size:12.3px;line-height:16px;color:#a1a1aa;font-weight:700;">Trigger Rule</div>
<div class="t" style="left:1116px;top:845.5px;font-size:12.3px;line-height:16px;color:#a1a1aa;font-weight:700;">Last Instance</div>
<div class="t" style="left:531px;top:875.2px;font-size:13.7px;line-height:18px;color:#e4e4e7;font-weight:400;">@task</div>
<div class="t" style="left:823.7px;top:874.5px;font-size:14.4px;line-height:18px;color:#e4e4e7;font-weight:400;">all_success</div>
<div class="t" style="left:1116px;top:874px;height:22px;display:flex;align-items:center;font-size:14.35px;line-height:22px;color:#a3bdec">2025-04-21, 13:11:21<svg style="margin-left:7px" width="22" height="22" viewBox="0 0 22 22"><circle cx="11" cy="11" r="11" fill="#2d7418"/><path d="M6.8 11L9.8 14L15.6 8.2" stroke="#fff" stroke-width="1.35" stroke-linecap="round" stroke-linejoin="round" fill="none"/></svg></div>
<div style="position:absolute;left:1521px;top:907px;width:4px;height:8px;background:#2e7318;border-radius:2px"></div>
<div style="position:absolute;left:1533px;top:903px;width:4px;height:12px;background:#2e7318;border-radius:2px"></div>
<div style="position:absolute;left:1545px;top:902px;width:4px;height:13px;background:#2e7318;border-radius:2px"></div>
<div style="position:absolute;left:1557px;top:892px;width:4px;height:23px;background:#2e7318;border-radius:2px"></div>
<div style="position:absolute;left:1569px;top:894px;width:4px;height:21px;background:#2e7318;border-radius:2px"></div>
<div style="position:absolute;left:1581px;top:898px;width:4px;height:17px;background:#2e7318;border-radius:2px"></div>
<div style="position:absolute;left:1593px;top:855px;width:4px;height:60px;background:#2e7318;border-radius:2px"></div>
<div style="position:absolute;left:1605px;top:895px;width:4px;height:20px;background:#2e7318;border-radius:2px"></div>
<div style="position:absolute;left:1617px;top:892px;width:4px;height:23px;background:#2e7318;border-radius:2px"></div>
<div style="position:absolute;left:1629px;top:888px;width:4px;height:27px;background:#2e7318;border-radius:2px"></div>
<div style="position:absolute;left:1641px;top:908px;width:4px;height:7px;background:#2e7318;border-radius:2px"></div>
<div style="position:absolute;left:1653px;top:896px;width:4px;height:19px;background:#2e7318;border-radius:2px"></div>
<div style="position:absolute;left:1665px;top:894px;width:4px;height:21px;background:#2e7318;border-radius:2px"></div>
<div style="position:absolute;left:1677px;top:899px;width:4px;height:16px;background:#2e7318;border-radius:2px"></div>
<div style="position:absolute;left:518px;top:936px;width:1180px;height:122px;border:1px solid #37373c;border-radius:8px;box-sizing:border-box"></div>
<div class="t" style="left:531px;top:947.0px;font-size:16.5px;line-height:20px;color:#9dc1fa;font-weight:700;">chain_linear_t5</div>
<div class="t" style="left:531px;top:975.5px;font-size:12.3px;line-height:16px;color:#a1a1aa;font-weight:700;">Operator</div>
<div class="t" style="left:823.7px;top:975.5px;font-size:12.3px;line-height:16px;color:#a1a1aa;font-weight:700;">Trigger Rule</div>
<div class="t" style="left:1116px;top:975.5px;font-size:12.3px;line-height:16px;color:#a1a1aa;font-weight:700;">Last Instance</div>
<div class="t" style="left:531px;top:1005.2px;font-size:13.7px;line-height:18px;color:#e4e4e7;font-weight:400;">@task</div>
<div class="t" style="left:823.7px;top:1004.5px;font-size:14.4px;line-height:18px;color:#e4e4e7;font-weight:400;">all_success</div>
<div class="t" style="left:1116px;top:1004px;height:22px;display:flex;align-items:center;font-size:14.35px;line-height:22px;color:#a3bdec">2025-04-21, 13:11:22<svg style="margin-left:7px" width="22" height="22" viewBox="0 0 22 22"><circle cx="11" cy="11" r="11" fill="#2d7418"/><path d="M6.8 11L9.8 14L15.6 8.2" stroke="#fff" stroke-width="1.35" stroke-linecap="round" stroke-linejoin="round" fill="none"/></svg></div>
<div style="position:absolute;left:1521px;top:1034px;width:4px;height:11px;background:#2e7318;border-radius:2px"></div>
<div style="position:absolute;left:1533px;top:1016px;width:4px;height:29px;background:#2e7318;border-radius:2px"></div>
<div style="position:absolute;left:1545px;top:1030px;width:4px;height:15px;background:#2e7318;border-radius:2px"></div>
<div style="position:absolute;left:1557px;top:1015px;width:4px;height:30px;background:#2e7318;border-radius:2px"></div>
<div style="position:absolute;left:1569px;top:1025px;width:4px;height:20px;background:#2e7318;border-radius:2px"></div>
<div style="position:absolute;left:1581px;top:1011px;width:4px;height:34px;background:#2e7318;border-radius:2px"></div>
<div style="position:absolute;left:1593px;top:1018px;width:4px;height:27px;background:#2e7318;border-radius:2px"></div>
<div style="position:absolute;left:1605px;top:985px;width:4px;height:60px;background:#2e7318;border-radius:2px"></div>
<div style="position:absolute;left:1617px;top:1024px;width:4px;height:21px;background:#2e7318;border-radius:2px"></div>
<div style="position:absolute;left:1629px;top:1023px;width:4px;height:22px;background:#2e7318;border-radius:2px"></div>
<div style="position:absolute;left:1641px;top:1023px;width:4px;height:22px;background:#2e7318;border-radius:2px"></div>
<div style="position:absolute;left:1653px;top:998px;width:4px;height:47px;background:#2e7318;border-radius:2px"></div>
<div style="position:absolute;left:1665px;top:1011px;width:4px;height:34px;background:#2e7318;border-radius:2px"></div>
<div style="position:absolute;left:1677px;top:1015px;width:4px;height:30px;background:#2e7318;border-radius:2px"></div>
<div style="position:absolute;left:518px;top:1066px;width:1180px;height:122px;border:1px solid #37373c;border-radius:8px;box-sizing:border-box"></div>
<div class="t" style="left:531px;top:1077.0px;font-size:16.5px;line-height:20px;color:#9dc1fa;font-weight:700;">chain_linear_t6</div>
<div class="t" style="left:531px;top:1105.5px;font-size:12.3px;line-height:16px;color:#a1a1aa;font-weight:700;">Operator</div>
<div class="t" style="left:823.7px;top:1105.5px;font-size:12.3px;line-height:16px;color:#a1a1aa;font-weight:700;">Trigger Rule</div>
<div class="t" style="left:1116px;top:1105.5px;font-size:12.3px;line-height:16px;color:#a1a1aa;font-weight:700;">Last Instance</div>
<div class="t" style="left:531px;top:1135.2px;font-size:13.7px;line-height:18px;color:#e4e4e7;font-weight:400;">@task</div>
<div class="t" style="left:823.7px;top:1134.5px;font-size:14.4px;line-height:18px;color:#e4e4e7;font-weight:400;">all_success</div>
<div class="t" style="left:1116px;top:1134px;height:22px;display:flex;align-items:center;font-size:14.35px;line-height:22px;color:#a3bdec">2025-04-21, 13:11:22<svg style="margin-left:7px" width="22" height="22" viewBox="0 0 22 22"><circle cx="11" cy="11" r="11" fill="#2d7418"/><path d="M6.8 11L9.8 14L15.6 8.2" stroke="#fff" stroke-width="1.35" stroke-linecap="round" stroke-linejoin="round" fill="none"/></svg></div>
<div style="position:absolute;left:1521px;top:1166px;width:4px;height:9px;background:#2e7318;border-radius:2px"></div>
<div style="position:absolute;left:1533px;top:1162px;width:4px;height:13px;background:#2e7318;border-radius:2px"></div>
<div style="position:absolute;left:1545px;top:1148px;width:4px;height:27px;background:#2e7318;border-radius:2px"></div>
<div style="position:absolute;left:1557px;top:1151px;width:4px;height:24px;background:#2e7318;border-radius:2px"></div>
<div style="position:absolute;left:1569px;top:1154px;width:4px;height:21px;background:#2e7318;border-radius:2px"></div>
<div style="position:absolute;left:1581px;top:1115px;width:4px;height:60px;background:#2e7318;border-radius:2px"></div>
<div style="position:absolute;left:1593px;top:1155px;width:4px;height:20px;background:#2e7318;border-radius:2px"></div>
<div style="position:absolute;left:1605px;top:1133px;width:4px;height:42px;background:#2e7318;border-radius:2px"></div>
<div style="position:absolute;left:1617px;top:1159px;width:4px;height:16px;background:#2e7318;border-radius:2px"></div>
<div style="position:absolute;left:1629px;top:1151px;width:4px;height:24px;background:#2e7318;border-radius:2px"></div>
<div style="position:absolute;left:1641px;top:1157px;width:4px;height:18px;background:#2e7318;border-radius:2px"></div>
<div style="position:absolute;left:1653px;top:1154px;width:4px;height:21px;background:#2e7318;border-radius:2px"></div>
<div style="position:absolute;left:1665px;top:1144px;width:4px;height:31px;background:#2e7318;border-radius:2px"></div>
<div style="position:absolute;left:1677px;top:1153px;width:4px;height:22px;background:#2e7318;border-radius:2px"></div>
<div style="position:absolute;left:518px;top:1196px;width:1180px;height:122px;border:1px solid #37373c;border-radius:8px;box-sizing:border-box"></div>
<div class="t" style="left:531px;top:1207.0px;font-size:16.5px;line-height:20px;color:#9dc1fa;font-weight:700;">chain_linear_t7</div>
<div class="t" style="left:531px;top:1235.5px;font-size:12.3px;line-height:16px;color:#a1a1aa;font-weight:700;">Operator</div>
<div class="t" style="left:823.7px;top:1235.5px;font-size:12.3px;line-height:16px;color:#a1a1aa;font-weight:700;">Trigger Rule</div>
<div class="t" style="left:1116px;top:1235.5px;font-size:12.3px;line-height:16px;color:#a1a1aa;font-weight:700;">Last Instance</div>
<div class="t" style="left:531px;top:1265.2px;font-size:13.7px;line-height:18px;color:#e4e4e7;font-weight:400;">@task</div>
<div class="t" style="left:823.7px;top:1264.5px;font-size:14.4px;line-height:18px;color:#e4e4e7;font-weight:400;">all_success</div>
<div class="t" style="left:1116px;top:1264px;height:22px;display:flex;align-items:center;font-size:14.35px;line-height:22px;color:#a3bdec">2025-04-21, 13:11:22<svg style="margin-left:7px" width="22" height="22" viewBox="0 0 22 22"><circle cx="11" cy="11" r="11" fill="#2d7418"/><path d="M6.8 11L9.8 14L15.6 8.2" stroke="#fff" stroke-width="1.35" stroke-linecap="round" stroke-linejoin="round" fill="none"/></svg></div>
<div style="position:absolute;left:1521px;top:1295px;width:4px;height:10px;background:#2e7318;border-radius:2px"></div>
<div style="position:absolute;left:1533px;top:1291px;width:4px;height:14px;background:#2e7318;border-radius:2px"></div>
<div style="position:absolute;left:1545px;top:1287px;width:4px;height:18px;background:#2e7318;border-radius:2px"></div>
<div style="position:absolute;left:1557px;top:1291px;width:4px;height:14px;background:#2e7318;border-radius:2px"></div>
<div style="position:absolute;left:1569px;top:1283px;width:4px;height:22px;background:#2e7318;border-radius:2px"></div>
<div style="position:absolute;left:1581px;top:1277px;width:4px;height:28px;background:#2e7318;border-radius:2px"></div>
<div style="position:absolute;left:1593px;top:1273px;width:4px;height:32px;background:#2e7318;border-radius:2px"></div>
<div style="position:absolute;left:1605px;top:1266px;width:4px;height:39px;background:#2e7318;border-radius:2px"></div>
<div style="position:absolute;left:1617px;top:1245px;width:4px;height:60px;background:#2e7318;border-radius:2px"></div>
<div style="position:absolute;left:1629px;top:1288px;width:4px;height:17px;background:#2e7318;border-radius:2px"></div>
<div style="position:absolute;left:1641px;top:1295px;width:4px;height:10px;background:#2e7318;border-radius:2px"></div>
<div style="position:absolute;left:1653px;top:1288px;width:4px;height:17px;background:#2e7318;border-radius:2px"></div>
<div style="position:absolute;left:1665px;top:1289px;width:4px;height:16px;background:#2e7318;border-radius:2px"></div>
<div style="position:absolute;left:1677px;top:1276px;width:4px;height:29px;background:#2e7318;border-radius:2px"></div>
</div>
</body></html>
